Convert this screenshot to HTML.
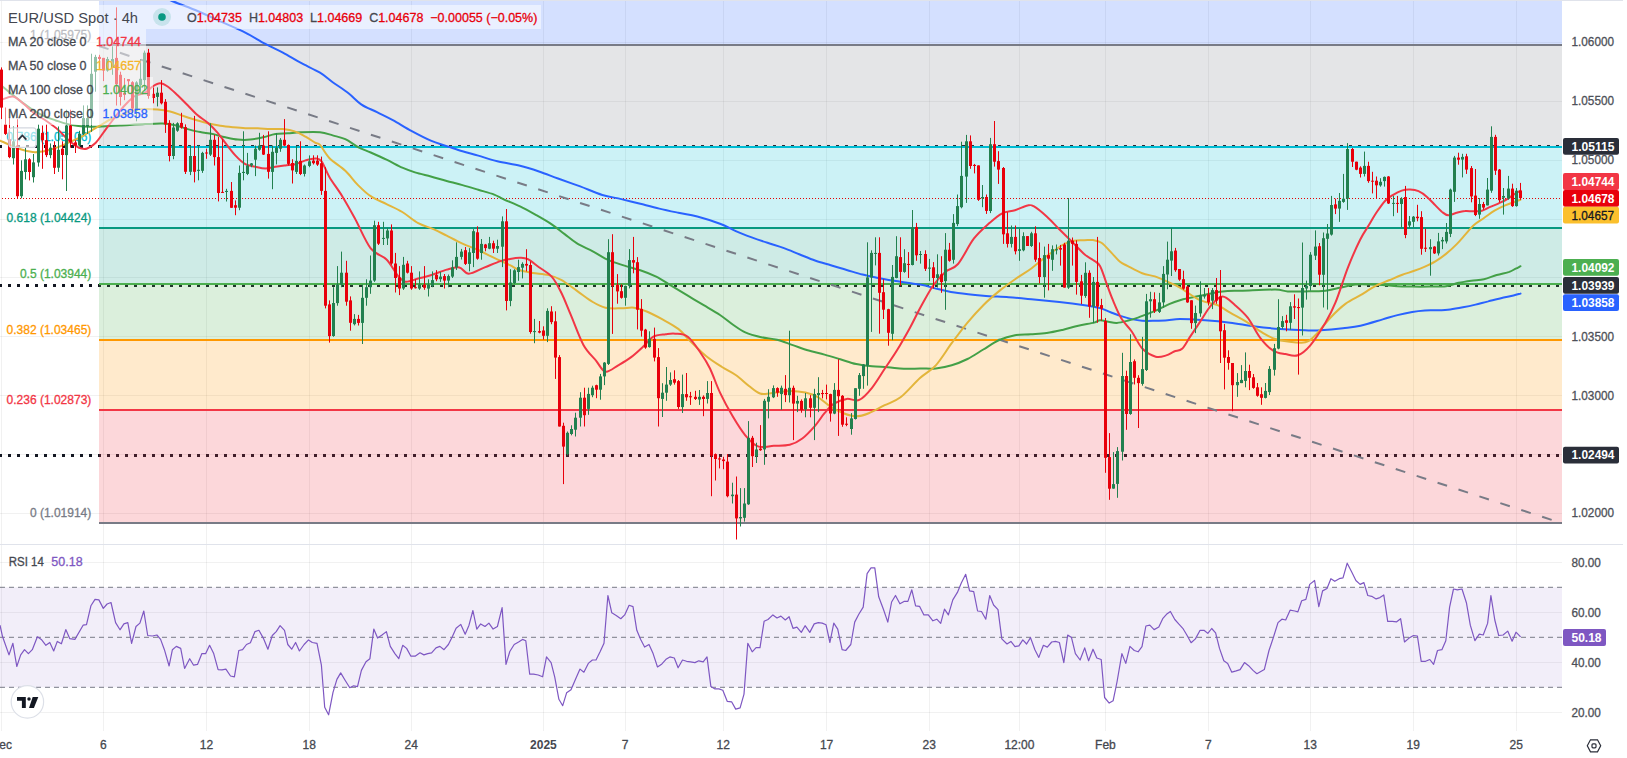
<!DOCTYPE html>
<html><head><meta charset="utf-8"><style>
html,body{margin:0;padding:0;background:#fff;width:1627px;height:758px;overflow:hidden}
svg{display:block;font-family:"Liberation Sans",sans-serif}
</style></head><body>
<svg width="1627" height="758" viewBox="0 0 1627 758">
<rect width="1627" height="758" fill="#fff"/>
<rect x="1" y="1" width="1" height="730" fill="rgba(42,50,48,0.065)"/>
<rect x="103" y="1" width="1" height="730" fill="rgba(42,50,48,0.065)"/>
<rect x="206" y="1" width="1" height="730" fill="rgba(42,50,48,0.065)"/>
<rect x="309" y="1" width="1" height="730" fill="rgba(42,50,48,0.065)"/>
<rect x="411" y="1" width="1" height="730" fill="rgba(42,50,48,0.065)"/>
<rect x="543" y="1" width="1" height="730" fill="rgba(42,50,48,0.065)"/>
<rect x="625" y="1" width="1" height="730" fill="rgba(42,50,48,0.065)"/>
<rect x="723" y="1" width="1" height="730" fill="rgba(42,50,48,0.065)"/>
<rect x="826" y="1" width="1" height="730" fill="rgba(42,50,48,0.065)"/>
<rect x="929" y="1" width="1" height="730" fill="rgba(42,50,48,0.065)"/>
<rect x="1019" y="1" width="1" height="730" fill="rgba(42,50,48,0.065)"/>
<rect x="1105" y="1" width="1" height="730" fill="rgba(42,50,48,0.065)"/>
<rect x="1208" y="1" width="1" height="730" fill="rgba(42,50,48,0.065)"/>
<rect x="1310" y="1" width="1" height="730" fill="rgba(42,50,48,0.065)"/>
<rect x="1413" y="1" width="1" height="730" fill="rgba(42,50,48,0.065)"/>
<rect x="1516" y="1" width="1" height="730" fill="rgba(42,50,48,0.065)"/>
<rect x="0" y="513" width="1562" height="1" fill="rgba(42,50,48,0.065)"/>
<rect x="0" y="454" width="1562" height="1" fill="rgba(42,50,48,0.065)"/>
<rect x="0" y="395" width="1562" height="1" fill="rgba(42,50,48,0.065)"/>
<rect x="0" y="336" width="1562" height="1" fill="rgba(42,50,48,0.065)"/>
<rect x="0" y="277" width="1562" height="1" fill="rgba(42,50,48,0.065)"/>
<rect x="0" y="219" width="1562" height="1" fill="rgba(42,50,48,0.065)"/>
<rect x="0" y="160" width="1562" height="1" fill="rgba(42,50,48,0.065)"/>
<rect x="0" y="101" width="1562" height="1" fill="rgba(42,50,48,0.065)"/>
<rect x="0" y="42" width="1562" height="1" fill="rgba(42,50,48,0.065)"/>
<rect x="0" y="562" width="1562" height="1" fill="rgba(42,50,48,0.065)"/>
<rect x="0" y="612" width="1562" height="1" fill="rgba(42,50,48,0.065)"/>
<rect x="0" y="662" width="1562" height="1" fill="rgba(42,50,48,0.065)"/>
<rect x="0" y="712" width="1562" height="1" fill="rgba(42,50,48,0.065)"/>
<svg x="0" y="0" width="1562" height="543" overflow="hidden">
<path d="M-1,145h3v3h-3z M8,145h3v3h-3z M17,145h3v3h-3z M26,145h3v3h-3z M35,145h3v3h-3z M44,145h3v3h-3z M53,145h3v3h-3z M62,145h3v3h-3z M71,145h3v3h-3z M80,145h3v3h-3z M89,145h3v3h-3z M98,145h3v3h-3z M107,145h3v3h-3z M116,145h3v3h-3z M125,145h3v3h-3z M134,145h3v3h-3z M143,145h3v3h-3z M152,145h3v3h-3z M161,145h3v3h-3z M170,145h3v3h-3z M179,145h3v3h-3z M188,145h3v3h-3z M197,145h3v3h-3z M206,145h3v3h-3z M215,145h3v3h-3z M224,145h3v3h-3z M233,145h3v3h-3z M242,145h3v3h-3z M251,145h3v3h-3z M260,145h3v3h-3z M269,145h3v3h-3z M278,145h3v3h-3z M287,145h3v3h-3z M296,145h3v3h-3z M305,145h3v3h-3z M314,145h3v3h-3z M323,145h3v3h-3z M332,145h3v3h-3z M341,145h3v3h-3z M350,145h3v3h-3z M359,145h3v3h-3z M368,145h3v3h-3z M377,145h3v3h-3z M386,145h3v3h-3z M395,145h3v3h-3z M404,145h3v3h-3z M413,145h3v3h-3z M422,145h3v3h-3z M431,145h3v3h-3z M440,145h3v3h-3z M449,145h3v3h-3z M458,145h3v3h-3z M467,145h3v3h-3z M476,145h3v3h-3z M485,145h3v3h-3z M494,145h3v3h-3z M503,145h3v3h-3z M512,145h3v3h-3z M521,145h3v3h-3z M530,145h3v3h-3z M539,145h3v3h-3z M548,145h3v3h-3z M557,145h3v3h-3z M566,145h3v3h-3z M575,145h3v3h-3z M584,145h3v3h-3z M593,145h3v3h-3z M602,145h3v3h-3z M611,145h3v3h-3z M620,145h3v3h-3z M629,145h3v3h-3z M638,145h3v3h-3z M647,145h3v3h-3z M656,145h3v3h-3z M665,145h3v3h-3z M674,145h3v3h-3z M683,145h3v3h-3z M692,145h3v3h-3z M701,145h3v3h-3z M710,145h3v3h-3z M719,145h3v3h-3z M728,145h3v3h-3z M737,145h3v3h-3z M746,145h3v3h-3z M755,145h3v3h-3z M764,145h3v3h-3z M773,145h3v3h-3z M782,145h3v3h-3z M791,145h3v3h-3z M800,145h3v3h-3z M809,145h3v3h-3z M818,145h3v3h-3z M827,145h3v3h-3z M836,145h3v3h-3z M845,145h3v3h-3z M854,145h3v3h-3z M863,145h3v3h-3z M872,145h3v3h-3z M881,145h3v3h-3z M890,145h3v3h-3z M899,145h3v3h-3z M908,145h3v3h-3z M917,145h3v3h-3z M926,145h3v3h-3z M935,145h3v3h-3z M944,145h3v3h-3z M953,145h3v3h-3z M962,145h3v3h-3z M971,145h3v3h-3z M980,145h3v3h-3z M989,145h3v3h-3z M998,145h3v3h-3z M1007,145h3v3h-3z M1016,145h3v3h-3z M1025,145h3v3h-3z M1034,145h3v3h-3z M1043,145h3v3h-3z M1052,145h3v3h-3z M1061,145h3v3h-3z M1070,145h3v3h-3z M1079,145h3v3h-3z M1088,145h3v3h-3z M1097,145h3v3h-3z M1106,145h3v3h-3z M1115,145h3v3h-3z M1124,145h3v3h-3z M1133,145h3v3h-3z M1142,145h3v3h-3z M1151,145h3v3h-3z M1160,145h3v3h-3z M1169,145h3v3h-3z M1178,145h3v3h-3z M1187,145h3v3h-3z M1196,145h3v3h-3z M1205,145h3v3h-3z M1214,145h3v3h-3z M1223,145h3v3h-3z M1232,145h3v3h-3z M1241,145h3v3h-3z M1250,145h3v3h-3z M1259,145h3v3h-3z M1268,145h3v3h-3z M1277,145h3v3h-3z M1286,145h3v3h-3z M1295,145h3v3h-3z M1304,145h3v3h-3z M1313,145h3v3h-3z M1322,145h3v3h-3z M1331,145h3v3h-3z M1340,145h3v3h-3z M1349,145h3v3h-3z M1358,145h3v3h-3z M1367,145h3v3h-3z M1376,145h3v3h-3z M1385,145h3v3h-3z M1394,145h3v3h-3z M1403,145h3v3h-3z M1412,145h3v3h-3z M1421,145h3v3h-3z M1430,145h3v3h-3z M1439,145h3v3h-3z M1448,145h3v3h-3z M1457,145h3v3h-3z M1466,145h3v3h-3z M1475,145h3v3h-3z M1484,145h3v3h-3z M1493,145h3v3h-3z M1502,145h3v3h-3z M1511,145h3v3h-3z M1520,145h3v3h-3z M1529,145h3v3h-3z M1538,145h3v3h-3z M1547,145h3v3h-3z M1556,145h3v3h-3z" fill="#131722"/>
<path d="M-1,284h3v3h-3z M8,284h3v3h-3z M17,284h3v3h-3z M26,284h3v3h-3z M35,284h3v3h-3z M44,284h3v3h-3z M53,284h3v3h-3z M62,284h3v3h-3z M71,284h3v3h-3z M80,284h3v3h-3z M89,284h3v3h-3z M98,284h3v3h-3z M107,284h3v3h-3z M116,284h3v3h-3z M125,284h3v3h-3z M134,284h3v3h-3z M143,284h3v3h-3z M152,284h3v3h-3z M161,284h3v3h-3z M170,284h3v3h-3z M179,284h3v3h-3z M188,284h3v3h-3z M197,284h3v3h-3z M206,284h3v3h-3z M215,284h3v3h-3z M224,284h3v3h-3z M233,284h3v3h-3z M242,284h3v3h-3z M251,284h3v3h-3z M260,284h3v3h-3z M269,284h3v3h-3z M278,284h3v3h-3z M287,284h3v3h-3z M296,284h3v3h-3z M305,284h3v3h-3z M314,284h3v3h-3z M323,284h3v3h-3z M332,284h3v3h-3z M341,284h3v3h-3z M350,284h3v3h-3z M359,284h3v3h-3z M368,284h3v3h-3z M377,284h3v3h-3z M386,284h3v3h-3z M395,284h3v3h-3z M404,284h3v3h-3z M413,284h3v3h-3z M422,284h3v3h-3z M431,284h3v3h-3z M440,284h3v3h-3z M449,284h3v3h-3z M458,284h3v3h-3z M467,284h3v3h-3z M476,284h3v3h-3z M485,284h3v3h-3z M494,284h3v3h-3z M503,284h3v3h-3z M512,284h3v3h-3z M521,284h3v3h-3z M530,284h3v3h-3z M539,284h3v3h-3z M548,284h3v3h-3z M557,284h3v3h-3z M566,284h3v3h-3z M575,284h3v3h-3z M584,284h3v3h-3z M593,284h3v3h-3z M602,284h3v3h-3z M611,284h3v3h-3z M620,284h3v3h-3z M629,284h3v3h-3z M638,284h3v3h-3z M647,284h3v3h-3z M656,284h3v3h-3z M665,284h3v3h-3z M674,284h3v3h-3z M683,284h3v3h-3z M692,284h3v3h-3z M701,284h3v3h-3z M710,284h3v3h-3z M719,284h3v3h-3z M728,284h3v3h-3z M737,284h3v3h-3z M746,284h3v3h-3z M755,284h3v3h-3z M764,284h3v3h-3z M773,284h3v3h-3z M782,284h3v3h-3z M791,284h3v3h-3z M800,284h3v3h-3z M809,284h3v3h-3z M818,284h3v3h-3z M827,284h3v3h-3z M836,284h3v3h-3z M845,284h3v3h-3z M854,284h3v3h-3z M863,284h3v3h-3z M872,284h3v3h-3z M881,284h3v3h-3z M890,284h3v3h-3z M899,284h3v3h-3z M908,284h3v3h-3z M917,284h3v3h-3z M926,284h3v3h-3z M935,284h3v3h-3z M944,284h3v3h-3z M953,284h3v3h-3z M962,284h3v3h-3z M971,284h3v3h-3z M980,284h3v3h-3z M989,284h3v3h-3z M998,284h3v3h-3z M1007,284h3v3h-3z M1016,284h3v3h-3z M1025,284h3v3h-3z M1034,284h3v3h-3z M1043,284h3v3h-3z M1052,284h3v3h-3z M1061,284h3v3h-3z M1070,284h3v3h-3z M1079,284h3v3h-3z M1088,284h3v3h-3z M1097,284h3v3h-3z M1106,284h3v3h-3z M1115,284h3v3h-3z M1124,284h3v3h-3z M1133,284h3v3h-3z M1142,284h3v3h-3z M1151,284h3v3h-3z M1160,284h3v3h-3z M1169,284h3v3h-3z M1178,284h3v3h-3z M1187,284h3v3h-3z M1196,284h3v3h-3z M1205,284h3v3h-3z M1214,284h3v3h-3z M1223,284h3v3h-3z M1232,284h3v3h-3z M1241,284h3v3h-3z M1250,284h3v3h-3z M1259,284h3v3h-3z M1268,284h3v3h-3z M1277,284h3v3h-3z M1286,284h3v3h-3z M1295,284h3v3h-3z M1304,284h3v3h-3z M1313,284h3v3h-3z M1322,284h3v3h-3z M1331,284h3v3h-3z M1340,284h3v3h-3z M1349,284h3v3h-3z M1358,284h3v3h-3z M1367,284h3v3h-3z M1376,284h3v3h-3z M1385,284h3v3h-3z M1394,284h3v3h-3z M1403,284h3v3h-3z M1412,284h3v3h-3z M1421,284h3v3h-3z M1430,284h3v3h-3z M1439,284h3v3h-3z M1448,284h3v3h-3z M1457,284h3v3h-3z M1466,284h3v3h-3z M1475,284h3v3h-3z M1484,284h3v3h-3z M1493,284h3v3h-3z M1502,284h3v3h-3z M1511,284h3v3h-3z M1520,284h3v3h-3z M1529,284h3v3h-3z M1538,284h3v3h-3z M1547,284h3v3h-3z M1556,284h3v3h-3z" fill="#131722"/>
<path d="M-1,454h3v3h-3z M8,454h3v3h-3z M17,454h3v3h-3z M26,454h3v3h-3z M35,454h3v3h-3z M44,454h3v3h-3z M53,454h3v3h-3z M62,454h3v3h-3z M71,454h3v3h-3z M80,454h3v3h-3z M89,454h3v3h-3z M98,454h3v3h-3z M107,454h3v3h-3z M116,454h3v3h-3z M125,454h3v3h-3z M134,454h3v3h-3z M143,454h3v3h-3z M152,454h3v3h-3z M161,454h3v3h-3z M170,454h3v3h-3z M179,454h3v3h-3z M188,454h3v3h-3z M197,454h3v3h-3z M206,454h3v3h-3z M215,454h3v3h-3z M224,454h3v3h-3z M233,454h3v3h-3z M242,454h3v3h-3z M251,454h3v3h-3z M260,454h3v3h-3z M269,454h3v3h-3z M278,454h3v3h-3z M287,454h3v3h-3z M296,454h3v3h-3z M305,454h3v3h-3z M314,454h3v3h-3z M323,454h3v3h-3z M332,454h3v3h-3z M341,454h3v3h-3z M350,454h3v3h-3z M359,454h3v3h-3z M368,454h3v3h-3z M377,454h3v3h-3z M386,454h3v3h-3z M395,454h3v3h-3z M404,454h3v3h-3z M413,454h3v3h-3z M422,454h3v3h-3z M431,454h3v3h-3z M440,454h3v3h-3z M449,454h3v3h-3z M458,454h3v3h-3z M467,454h3v3h-3z M476,454h3v3h-3z M485,454h3v3h-3z M494,454h3v3h-3z M503,454h3v3h-3z M512,454h3v3h-3z M521,454h3v3h-3z M530,454h3v3h-3z M539,454h3v3h-3z M548,454h3v3h-3z M557,454h3v3h-3z M566,454h3v3h-3z M575,454h3v3h-3z M584,454h3v3h-3z M593,454h3v3h-3z M602,454h3v3h-3z M611,454h3v3h-3z M620,454h3v3h-3z M629,454h3v3h-3z M638,454h3v3h-3z M647,454h3v3h-3z M656,454h3v3h-3z M665,454h3v3h-3z M674,454h3v3h-3z M683,454h3v3h-3z M692,454h3v3h-3z M701,454h3v3h-3z M710,454h3v3h-3z M719,454h3v3h-3z M728,454h3v3h-3z M737,454h3v3h-3z M746,454h3v3h-3z M755,454h3v3h-3z M764,454h3v3h-3z M773,454h3v3h-3z M782,454h3v3h-3z M791,454h3v3h-3z M800,454h3v3h-3z M809,454h3v3h-3z M818,454h3v3h-3z M827,454h3v3h-3z M836,454h3v3h-3z M845,454h3v3h-3z M854,454h3v3h-3z M863,454h3v3h-3z M872,454h3v3h-3z M881,454h3v3h-3z M890,454h3v3h-3z M899,454h3v3h-3z M908,454h3v3h-3z M917,454h3v3h-3z M926,454h3v3h-3z M935,454h3v3h-3z M944,454h3v3h-3z M953,454h3v3h-3z M962,454h3v3h-3z M971,454h3v3h-3z M980,454h3v3h-3z M989,454h3v3h-3z M998,454h3v3h-3z M1007,454h3v3h-3z M1016,454h3v3h-3z M1025,454h3v3h-3z M1034,454h3v3h-3z M1043,454h3v3h-3z M1052,454h3v3h-3z M1061,454h3v3h-3z M1070,454h3v3h-3z M1079,454h3v3h-3z M1088,454h3v3h-3z M1097,454h3v3h-3z M1106,454h3v3h-3z M1115,454h3v3h-3z M1124,454h3v3h-3z M1133,454h3v3h-3z M1142,454h3v3h-3z M1151,454h3v3h-3z M1160,454h3v3h-3z M1169,454h3v3h-3z M1178,454h3v3h-3z M1187,454h3v3h-3z M1196,454h3v3h-3z M1205,454h3v3h-3z M1214,454h3v3h-3z M1223,454h3v3h-3z M1232,454h3v3h-3z M1241,454h3v3h-3z M1250,454h3v3h-3z M1259,454h3v3h-3z M1268,454h3v3h-3z M1277,454h3v3h-3z M1286,454h3v3h-3z M1295,454h3v3h-3z M1304,454h3v3h-3z M1313,454h3v3h-3z M1322,454h3v3h-3z M1331,454h3v3h-3z M1340,454h3v3h-3z M1349,454h3v3h-3z M1358,454h3v3h-3z M1367,454h3v3h-3z M1376,454h3v3h-3z M1385,454h3v3h-3z M1394,454h3v3h-3z M1403,454h3v3h-3z M1412,454h3v3h-3z M1421,454h3v3h-3z M1430,454h3v3h-3z M1439,454h3v3h-3z M1448,454h3v3h-3z M1457,454h3v3h-3z M1466,454h3v3h-3z M1475,454h3v3h-3z M1484,454h3v3h-3z M1493,454h3v3h-3z M1502,454h3v3h-3z M1511,454h3v3h-3z M1520,454h3v3h-3z M1529,454h3v3h-3z M1538,454h3v3h-3z M1547,454h3v3h-3z M1556,454h3v3h-3z" fill="#131722"/>
<rect x="99" y="1" width="1463" height="44" fill="rgba(41,98,255,0.2)"/>
<rect x="99" y="45" width="1463" height="102" fill="rgba(120,123,134,0.2)"/>
<rect x="99" y="147" width="1463" height="81" fill="rgba(0,188,212,0.2)"/>
<rect x="99" y="228" width="1463" height="56" fill="rgba(8,153,129,0.2)"/>
<rect x="99" y="284" width="1463" height="56" fill="rgba(76,175,80,0.2)"/>
<rect x="99" y="340" width="1463" height="70" fill="rgba(255,152,0,0.2)"/>
<rect x="99" y="410" width="1463" height="113" fill="rgba(242,54,69,0.2)"/>
<rect x="99" y="44" width="1463" height="2" fill="#787b86"/>
<rect x="99" y="146" width="1463" height="2" fill="#00bcd4"/>
<rect x="99" y="227" width="1463" height="2" fill="#089981"/>
<rect x="99" y="283" width="1463" height="2" fill="#4caf50"/>
<rect x="99" y="339" width="1463" height="2" fill="#ff9800"/>
<rect x="99" y="409" width="1463" height="2" fill="#f23645"/>
<rect x="99" y="522" width="1463" height="2" fill="#787b86"/>
<text x="91.3" y="39.2" fill="#787b86" font-size="12" text-anchor="end" stroke="#787b86" stroke-width="0.3">1 (1.05975)</text>
<text x="91.3" y="141.2" fill="#00bcd4" font-size="12" text-anchor="end" stroke="#00bcd4" stroke-width="0.3">0.786 (1.05106)</text>
<text x="91.3" y="222.2" fill="#089981" font-size="12" text-anchor="end" stroke="#089981" stroke-width="0.3">0.618 (1.04424)</text>
<text x="91.3" y="278.2" fill="#4caf50" font-size="12" text-anchor="end" stroke="#4caf50" stroke-width="0.3">0.5 (1.03944)</text>
<text x="91.3" y="334.2" fill="#ff9800" font-size="12" text-anchor="end" stroke="#ff9800" stroke-width="0.3">0.382 (1.03465)</text>
<text x="91.3" y="404.2" fill="#f23645" font-size="12" text-anchor="end" stroke="#f23645" stroke-width="0.3">0.236 (1.02873)</text>
<text x="91.3" y="517.2" fill="#787b86" font-size="12" text-anchor="end" stroke="#787b86" stroke-width="0.3">0 (1.01914)</text>
<path d="M2,198h1v1h-1z M5,198h1v1h-1z M8,198h1v1h-1z M11,198h1v1h-1z M14,198h1v1h-1z M17,198h1v1h-1z M20,198h1v1h-1z M23,198h1v1h-1z M26,198h1v1h-1z M29,198h1v1h-1z M32,198h1v1h-1z M35,198h1v1h-1z M38,198h1v1h-1z M41,198h1v1h-1z M44,198h1v1h-1z M47,198h1v1h-1z M50,198h1v1h-1z M53,198h1v1h-1z M56,198h1v1h-1z M59,198h1v1h-1z M62,198h1v1h-1z M65,198h1v1h-1z M68,198h1v1h-1z M71,198h1v1h-1z M74,198h1v1h-1z M77,198h1v1h-1z M80,198h1v1h-1z M83,198h1v1h-1z M86,198h1v1h-1z M89,198h1v1h-1z M92,198h1v1h-1z M95,198h1v1h-1z M98,198h1v1h-1z M101,198h1v1h-1z M104,198h1v1h-1z M107,198h1v1h-1z M110,198h1v1h-1z M113,198h1v1h-1z M116,198h1v1h-1z M119,198h1v1h-1z M122,198h1v1h-1z M125,198h1v1h-1z M128,198h1v1h-1z M131,198h1v1h-1z M134,198h1v1h-1z M137,198h1v1h-1z M140,198h1v1h-1z M143,198h1v1h-1z M146,198h1v1h-1z M149,198h1v1h-1z M152,198h1v1h-1z M155,198h1v1h-1z M158,198h1v1h-1z M161,198h1v1h-1z M164,198h1v1h-1z M167,198h1v1h-1z M170,198h1v1h-1z M173,198h1v1h-1z M176,198h1v1h-1z M179,198h1v1h-1z M182,198h1v1h-1z M185,198h1v1h-1z M188,198h1v1h-1z M191,198h1v1h-1z M194,198h1v1h-1z M197,198h1v1h-1z M200,198h1v1h-1z M203,198h1v1h-1z M206,198h1v1h-1z M209,198h1v1h-1z M212,198h1v1h-1z M215,198h1v1h-1z M218,198h1v1h-1z M221,198h1v1h-1z M224,198h1v1h-1z M227,198h1v1h-1z M230,198h1v1h-1z M233,198h1v1h-1z M236,198h1v1h-1z M239,198h1v1h-1z M242,198h1v1h-1z M245,198h1v1h-1z M248,198h1v1h-1z M251,198h1v1h-1z M254,198h1v1h-1z M257,198h1v1h-1z M260,198h1v1h-1z M263,198h1v1h-1z M266,198h1v1h-1z M269,198h1v1h-1z M272,198h1v1h-1z M275,198h1v1h-1z M278,198h1v1h-1z M281,198h1v1h-1z M284,198h1v1h-1z M287,198h1v1h-1z M290,198h1v1h-1z M293,198h1v1h-1z M296,198h1v1h-1z M299,198h1v1h-1z M302,198h1v1h-1z M305,198h1v1h-1z M308,198h1v1h-1z M311,198h1v1h-1z M314,198h1v1h-1z M317,198h1v1h-1z M320,198h1v1h-1z M323,198h1v1h-1z M326,198h1v1h-1z M329,198h1v1h-1z M332,198h1v1h-1z M335,198h1v1h-1z M338,198h1v1h-1z M341,198h1v1h-1z M344,198h1v1h-1z M347,198h1v1h-1z M350,198h1v1h-1z M353,198h1v1h-1z M356,198h1v1h-1z M359,198h1v1h-1z M362,198h1v1h-1z M365,198h1v1h-1z M368,198h1v1h-1z M371,198h1v1h-1z M374,198h1v1h-1z M377,198h1v1h-1z M380,198h1v1h-1z M383,198h1v1h-1z M386,198h1v1h-1z M389,198h1v1h-1z M392,198h1v1h-1z M395,198h1v1h-1z M398,198h1v1h-1z M401,198h1v1h-1z M404,198h1v1h-1z M407,198h1v1h-1z M410,198h1v1h-1z M413,198h1v1h-1z M416,198h1v1h-1z M419,198h1v1h-1z M422,198h1v1h-1z M425,198h1v1h-1z M428,198h1v1h-1z M431,198h1v1h-1z M434,198h1v1h-1z M437,198h1v1h-1z M440,198h1v1h-1z M443,198h1v1h-1z M446,198h1v1h-1z M449,198h1v1h-1z M452,198h1v1h-1z M455,198h1v1h-1z M458,198h1v1h-1z M461,198h1v1h-1z M464,198h1v1h-1z M467,198h1v1h-1z M470,198h1v1h-1z M473,198h1v1h-1z M476,198h1v1h-1z M479,198h1v1h-1z M482,198h1v1h-1z M485,198h1v1h-1z M488,198h1v1h-1z M491,198h1v1h-1z M494,198h1v1h-1z M497,198h1v1h-1z M500,198h1v1h-1z M503,198h1v1h-1z M506,198h1v1h-1z M509,198h1v1h-1z M512,198h1v1h-1z M515,198h1v1h-1z M518,198h1v1h-1z M521,198h1v1h-1z M524,198h1v1h-1z M527,198h1v1h-1z M530,198h1v1h-1z M533,198h1v1h-1z M536,198h1v1h-1z M539,198h1v1h-1z M542,198h1v1h-1z M545,198h1v1h-1z M548,198h1v1h-1z M551,198h1v1h-1z M554,198h1v1h-1z M557,198h1v1h-1z M560,198h1v1h-1z M563,198h1v1h-1z M566,198h1v1h-1z M569,198h1v1h-1z M572,198h1v1h-1z M575,198h1v1h-1z M578,198h1v1h-1z M581,198h1v1h-1z M584,198h1v1h-1z M587,198h1v1h-1z M590,198h1v1h-1z M593,198h1v1h-1z M596,198h1v1h-1z M599,198h1v1h-1z M602,198h1v1h-1z M605,198h1v1h-1z M608,198h1v1h-1z M611,198h1v1h-1z M614,198h1v1h-1z M617,198h1v1h-1z M620,198h1v1h-1z M623,198h1v1h-1z M626,198h1v1h-1z M629,198h1v1h-1z M632,198h1v1h-1z M635,198h1v1h-1z M638,198h1v1h-1z M641,198h1v1h-1z M644,198h1v1h-1z M647,198h1v1h-1z M650,198h1v1h-1z M653,198h1v1h-1z M656,198h1v1h-1z M659,198h1v1h-1z M662,198h1v1h-1z M665,198h1v1h-1z M668,198h1v1h-1z M671,198h1v1h-1z M674,198h1v1h-1z M677,198h1v1h-1z M680,198h1v1h-1z M683,198h1v1h-1z M686,198h1v1h-1z M689,198h1v1h-1z M692,198h1v1h-1z M695,198h1v1h-1z M698,198h1v1h-1z M701,198h1v1h-1z M704,198h1v1h-1z M707,198h1v1h-1z M710,198h1v1h-1z M713,198h1v1h-1z M716,198h1v1h-1z M719,198h1v1h-1z M722,198h1v1h-1z M725,198h1v1h-1z M728,198h1v1h-1z M731,198h1v1h-1z M734,198h1v1h-1z M737,198h1v1h-1z M740,198h1v1h-1z M743,198h1v1h-1z M746,198h1v1h-1z M749,198h1v1h-1z M752,198h1v1h-1z M755,198h1v1h-1z M758,198h1v1h-1z M761,198h1v1h-1z M764,198h1v1h-1z M767,198h1v1h-1z M770,198h1v1h-1z M773,198h1v1h-1z M776,198h1v1h-1z M779,198h1v1h-1z M782,198h1v1h-1z M785,198h1v1h-1z M788,198h1v1h-1z M791,198h1v1h-1z M794,198h1v1h-1z M797,198h1v1h-1z M800,198h1v1h-1z M803,198h1v1h-1z M806,198h1v1h-1z M809,198h1v1h-1z M812,198h1v1h-1z M815,198h1v1h-1z M818,198h1v1h-1z M821,198h1v1h-1z M824,198h1v1h-1z M827,198h1v1h-1z M830,198h1v1h-1z M833,198h1v1h-1z M836,198h1v1h-1z M839,198h1v1h-1z M842,198h1v1h-1z M845,198h1v1h-1z M848,198h1v1h-1z M851,198h1v1h-1z M854,198h1v1h-1z M857,198h1v1h-1z M860,198h1v1h-1z M863,198h1v1h-1z M866,198h1v1h-1z M869,198h1v1h-1z M872,198h1v1h-1z M875,198h1v1h-1z M878,198h1v1h-1z M881,198h1v1h-1z M884,198h1v1h-1z M887,198h1v1h-1z M890,198h1v1h-1z M893,198h1v1h-1z M896,198h1v1h-1z M899,198h1v1h-1z M902,198h1v1h-1z M905,198h1v1h-1z M908,198h1v1h-1z M911,198h1v1h-1z M914,198h1v1h-1z M917,198h1v1h-1z M920,198h1v1h-1z M923,198h1v1h-1z M926,198h1v1h-1z M929,198h1v1h-1z M932,198h1v1h-1z M935,198h1v1h-1z M938,198h1v1h-1z M941,198h1v1h-1z M944,198h1v1h-1z M947,198h1v1h-1z M950,198h1v1h-1z M953,198h1v1h-1z M956,198h1v1h-1z M959,198h1v1h-1z M962,198h1v1h-1z M965,198h1v1h-1z M968,198h1v1h-1z M971,198h1v1h-1z M974,198h1v1h-1z M977,198h1v1h-1z M980,198h1v1h-1z M983,198h1v1h-1z M986,198h1v1h-1z M989,198h1v1h-1z M992,198h1v1h-1z M995,198h1v1h-1z M998,198h1v1h-1z M1001,198h1v1h-1z M1004,198h1v1h-1z M1007,198h1v1h-1z M1010,198h1v1h-1z M1013,198h1v1h-1z M1016,198h1v1h-1z M1019,198h1v1h-1z M1022,198h1v1h-1z M1025,198h1v1h-1z M1028,198h1v1h-1z M1031,198h1v1h-1z M1034,198h1v1h-1z M1037,198h1v1h-1z M1040,198h1v1h-1z M1043,198h1v1h-1z M1046,198h1v1h-1z M1049,198h1v1h-1z M1052,198h1v1h-1z M1055,198h1v1h-1z M1058,198h1v1h-1z M1061,198h1v1h-1z M1064,198h1v1h-1z M1067,198h1v1h-1z M1070,198h1v1h-1z M1073,198h1v1h-1z M1076,198h1v1h-1z M1079,198h1v1h-1z M1082,198h1v1h-1z M1085,198h1v1h-1z M1088,198h1v1h-1z M1091,198h1v1h-1z M1094,198h1v1h-1z M1097,198h1v1h-1z M1100,198h1v1h-1z M1103,198h1v1h-1z M1106,198h1v1h-1z M1109,198h1v1h-1z M1112,198h1v1h-1z M1115,198h1v1h-1z M1118,198h1v1h-1z M1121,198h1v1h-1z M1124,198h1v1h-1z M1127,198h1v1h-1z M1130,198h1v1h-1z M1133,198h1v1h-1z M1136,198h1v1h-1z M1139,198h1v1h-1z M1142,198h1v1h-1z M1145,198h1v1h-1z M1148,198h1v1h-1z M1151,198h1v1h-1z M1154,198h1v1h-1z M1157,198h1v1h-1z M1160,198h1v1h-1z M1163,198h1v1h-1z M1166,198h1v1h-1z M1169,198h1v1h-1z M1172,198h1v1h-1z M1175,198h1v1h-1z M1178,198h1v1h-1z M1181,198h1v1h-1z M1184,198h1v1h-1z M1187,198h1v1h-1z M1190,198h1v1h-1z M1193,198h1v1h-1z M1196,198h1v1h-1z M1199,198h1v1h-1z M1202,198h1v1h-1z M1205,198h1v1h-1z M1208,198h1v1h-1z M1211,198h1v1h-1z M1214,198h1v1h-1z M1217,198h1v1h-1z M1220,198h1v1h-1z M1223,198h1v1h-1z M1226,198h1v1h-1z M1229,198h1v1h-1z M1232,198h1v1h-1z M1235,198h1v1h-1z M1238,198h1v1h-1z M1241,198h1v1h-1z M1244,198h1v1h-1z M1247,198h1v1h-1z M1250,198h1v1h-1z M1253,198h1v1h-1z M1256,198h1v1h-1z M1259,198h1v1h-1z M1262,198h1v1h-1z M1265,198h1v1h-1z M1268,198h1v1h-1z M1271,198h1v1h-1z M1274,198h1v1h-1z M1277,198h1v1h-1z M1280,198h1v1h-1z M1283,198h1v1h-1z M1286,198h1v1h-1z M1289,198h1v1h-1z M1292,198h1v1h-1z M1295,198h1v1h-1z M1298,198h1v1h-1z M1301,198h1v1h-1z M1304,198h1v1h-1z M1307,198h1v1h-1z M1310,198h1v1h-1z M1313,198h1v1h-1z M1316,198h1v1h-1z M1319,198h1v1h-1z M1322,198h1v1h-1z M1325,198h1v1h-1z M1328,198h1v1h-1z M1331,198h1v1h-1z M1334,198h1v1h-1z M1337,198h1v1h-1z M1340,198h1v1h-1z M1343,198h1v1h-1z M1346,198h1v1h-1z M1349,198h1v1h-1z M1352,198h1v1h-1z M1355,198h1v1h-1z M1358,198h1v1h-1z M1361,198h1v1h-1z M1364,198h1v1h-1z M1367,198h1v1h-1z M1370,198h1v1h-1z M1373,198h1v1h-1z M1376,198h1v1h-1z M1379,198h1v1h-1z M1382,198h1v1h-1z M1385,198h1v1h-1z M1388,198h1v1h-1z M1391,198h1v1h-1z M1394,198h1v1h-1z M1397,198h1v1h-1z M1400,198h1v1h-1z M1403,198h1v1h-1z M1406,198h1v1h-1z M1409,198h1v1h-1z M1412,198h1v1h-1z M1415,198h1v1h-1z M1418,198h1v1h-1z M1421,198h1v1h-1z M1424,198h1v1h-1z M1427,198h1v1h-1z M1430,198h1v1h-1z M1433,198h1v1h-1z M1436,198h1v1h-1z M1439,198h1v1h-1z M1442,198h1v1h-1z M1445,198h1v1h-1z M1448,198h1v1h-1z M1451,198h1v1h-1z M1454,198h1v1h-1z M1457,198h1v1h-1z M1460,198h1v1h-1z M1463,198h1v1h-1z M1466,198h1v1h-1z M1469,198h1v1h-1z M1472,198h1v1h-1z M1475,198h1v1h-1z M1478,198h1v1h-1z M1481,198h1v1h-1z M1484,198h1v1h-1z M1487,198h1v1h-1z M1490,198h1v1h-1z M1493,198h1v1h-1z M1496,198h1v1h-1z M1499,198h1v1h-1z M1502,198h1v1h-1z M1505,198h1v1h-1z M1508,198h1v1h-1z M1511,198h1v1h-1z M1514,198h1v1h-1z M1517,198h1v1h-1z M1520,198h1v1h-1z M1523,198h1v1h-1z M1526,198h1v1h-1z M1529,198h1v1h-1z M1532,198h1v1h-1z M1535,198h1v1h-1z M1538,198h1v1h-1z M1541,198h1v1h-1z M1544,198h1v1h-1z M1547,198h1v1h-1z M1550,198h1v1h-1z M1553,198h1v1h-1z M1556,198h1v1h-1z M1559,198h1v1h-1z" fill="#e60000"/>
<line x1="99" y1="46" x2="1555" y2="521" stroke="#787b86" stroke-width="2" stroke-dasharray="10 12"/>
<path d="M165,-2 C166.3,-1.5 167.6,-0.7 172.6,1.3 C177.6,3.3 187.2,6.7 195.2,10 C203.1,13.3 212,17.5 220.3,21.3 C228.7,25.1 237.8,28.8 245.3,32.6 C252.8,36.4 259.1,40.6 265.4,43.9 C271.7,47.2 277,49.5 282.9,52.6 C288.8,55.7 294.3,59.4 300.5,62.7 C306.7,66 314.6,69.5 320,72.7 C325.4,76 327.9,78.8 332.7,82.2 C337.4,85.6 343.8,89.5 348.5,93.2 C353.2,96.9 356.4,101.1 361.2,104.3 C365.9,107.5 371.7,109.5 377,112.2 C382.3,114.9 387,117 392.8,120.2 C398.6,123.4 405.5,127.8 411.8,131.2 C418.1,134.6 425,138.2 430.8,140.7 C436.6,143.2 441.4,144.3 446.7,146.1 C452,147.8 457.2,149.6 462.5,151.2 C467.8,152.8 472.5,153.9 478.3,155.6 C484.1,157.3 490.4,159.6 497.3,161.3 C504.2,163 513,164.1 520,165.8 C527,167.5 532.7,169.4 539,171.5 C545.3,173.6 551.1,176 558,178.5 C564.9,181 572.8,183.7 580.2,186.4 C587.6,189.2 595.4,192.9 602.3,195 C609.1,197.1 615,197.6 621.3,199.1 C627.6,200.6 634,202.2 640.3,203.8 C646.6,205.4 653,207.1 659.3,208.6 C665.6,210.1 672,211.4 678.3,212.7 C684.6,214 690.3,214.7 697.3,216.5 C704.2,218.3 713.6,221.4 720,223.8 C726.4,226.2 730.5,228.8 735.8,231.1 C741.1,233.4 746.4,235.4 751.7,237.4 C757,239.4 762.2,241.1 767.5,242.8 C772.8,244.6 778,246 783.3,247.9 C788.6,249.8 793.9,252.1 799.2,254.2 C804.5,256.3 809.7,258.6 815,260.5 C820.3,262.4 825.5,263.7 830.8,265.3 C836.1,266.9 841.4,268.5 846.7,270 C852,271.5 857.2,273.2 862.5,274.5 C867.8,275.8 873,276.8 878.3,277.9 C883.6,278.9 887.2,279.7 894.2,280.8 C901.2,281.9 912.5,283.2 920,284.6 C927.5,286 932.7,287.9 939,289.3 C945.3,290.7 950.6,292 958,293.1 C965.4,294.2 974.8,295 983.3,295.7 C991.8,296.4 1000.2,296.6 1008.7,297.2 C1017.2,297.8 1025.6,298.7 1034,299.5 C1042.4,300.3 1050.8,301.1 1059.3,302 C1067.8,302.9 1077.9,304.2 1084.7,305.2 C1091.5,306.2 1095.7,306.9 1100,308.1 C1104.3,309.3 1107.1,311 1110.6,312.3 C1114.1,313.6 1117.6,315 1121.1,316.1 C1124.6,317.2 1128.2,318.3 1131.7,319.1 C1135.2,319.9 1138.3,320.5 1142.2,320.8 C1146.1,321.1 1150.7,320.9 1154.9,320.8 C1159.1,320.7 1163.3,320.6 1167.5,320.3 C1171.7,320 1173.7,319 1180,319 C1186.3,319 1196.8,319.6 1205.1,320.2 C1213.4,320.8 1221.8,321.6 1230.1,322.7 C1238.4,323.8 1246.8,325.4 1255.2,326.5 C1263.6,327.6 1272,328.4 1280.3,329 C1288.6,329.6 1298.6,330.1 1305.3,330.3 C1312,330.5 1314.1,330.7 1320.4,330.3 C1326.7,329.9 1336.2,329 1342.9,328.2 C1349.6,327.4 1353.9,327.2 1360.5,325.7 C1367.1,324.2 1376.5,321.2 1382.7,319.4 C1388.9,317.6 1392.5,316.3 1397.4,315.1 C1402.3,313.9 1407.6,312.8 1412.2,312 C1416.8,311.2 1420.7,310.8 1424.9,310.5 C1429.1,310.2 1433.3,310.5 1437.5,310.3 C1441.7,310.1 1446,309.9 1450.2,309.4 C1454.4,308.9 1458.7,308.1 1462.9,307.3 C1467.1,306.5 1471.3,305.6 1475.5,304.6 C1479.7,303.6 1484,302.4 1488.2,301.4 C1492.4,300.3 1496.7,299.3 1500.9,298.3 C1505.1,297.3 1510.2,296.3 1513.5,295.5 C1516.8,294.7 1519.3,293.9 1520.5,293.6" fill="none" stroke="#2962ff" stroke-width="2" stroke-linejoin="round" stroke-linecap="round"/>
<path d="M0,85.5 C0.5,85.7 1,85.5 2.9,86.9 C4.8,88.3 8.4,91.6 11.6,94.1 C14.8,96.6 18.4,99.6 21.8,102.1 C25.2,104.6 28.3,107 31.9,109.3 C35.5,111.6 39.6,114.1 43.5,115.9 C47.4,117.7 51.3,118.9 55.2,120.2 C59.1,121.5 62.9,122.9 66.8,123.9 C70.7,124.9 74.5,125.5 78.4,126 C82.3,126.5 86.1,126.7 90,126.8 C93.9,126.9 96.6,126.7 101.6,126.5 C106.6,126.3 112.8,126 120,125.6 C127.2,125.2 138,124.4 145.1,124.1 C152.2,123.8 157.6,123.4 162.6,123.6 C167.6,123.8 170.9,124.4 175.1,125.3 C179.3,126.2 183.5,128 187.7,129.1 C191.9,130.2 196,131.3 200.2,132.1 C204.4,132.9 208.5,133.2 212.7,134.1 C216.9,135 221.1,136.4 225.3,137.3 C229.5,138.2 233.6,139.2 237.8,139.6 C242,140 246.1,140 250.3,139.6 C254.5,139.2 258.7,138.2 262.9,137.3 C267.1,136.4 271.2,134.8 275.4,134.1 C279.6,133.4 283.7,133.6 287.9,133.3 C292.1,133 295.1,132.5 300.5,132.3 C305.9,132.1 314.6,131.7 320,132.2 C325.4,132.7 328.5,134.2 332.7,135.4 C336.9,136.6 341.1,137.2 345.3,139.2 C349.5,141.1 353.8,144.9 358,147.1 C362.2,149.3 365.9,150.4 370.7,152.5 C375.4,154.6 381.2,157.2 386.5,159.7 C391.8,162.2 397.6,165.6 402.3,167.7 C407.1,169.8 410.2,170.9 415,172.4 C419.8,173.9 425.5,175.1 430.8,176.5 C436.1,177.9 441.4,179.6 446.7,181 C452,182.4 457.2,183.6 462.5,185.1 C467.8,186.6 473,188.2 478.3,189.8 C483.6,191.4 490,193 494.2,194.6 C498.4,196.2 499.4,197.3 503.7,199.3 C508,201.3 514.6,203.8 520,206.4 C525.4,209 530.5,211.9 535.8,214.9 C541.1,217.9 547,221.2 551.7,224.4 C556.5,227.6 560.1,230.7 564.3,233.9 C568.5,237.1 572.2,240.5 577,243.4 C581.8,246.3 587.5,248.5 592.8,251.3 C598.1,254.1 603.4,257.8 608.7,260.2 C614,262.6 619.2,263.9 624.5,265.6 C629.8,267.3 635,268.5 640.3,270.3 C645.6,272.1 650.9,274.1 656.2,276.7 C661.5,279.3 666.7,283 672,286.2 C677.3,289.4 682.5,292.5 687.8,295.7 C693.1,298.9 698.3,302 703.7,305.2 C709.1,308.4 715.2,311.8 720,315 C724.8,318.2 728.5,321.6 732.7,324.5 C736.9,327.4 740.5,330.3 745.3,332.4 C750,334.5 755.9,336 761.2,337.2 C766.5,338.4 771.7,338.4 777,339.7 C782.3,341 787.5,343.3 792.8,345.1 C798.1,346.9 803.4,348.9 808.7,350.5 C814,352.1 819.2,353.1 824.5,354.6 C829.8,356.1 835,357.7 840.3,359.3 C845.6,360.9 850.9,362.9 856.2,364.1 C861.5,365.3 866.7,365.8 872,366.3 C877.3,366.8 882.5,366.8 887.8,367.2 C893.1,367.6 898.3,368.6 903.7,368.8 C909.1,369 914.6,368.6 920,368.5 C925.4,368.4 930.5,369 935.8,368.5 C941.1,368 946.4,366.9 951.7,365.3 C957,363.7 962.2,361.6 967.5,359 C972.8,356.4 978,352.7 983.3,349.5 C988.6,346.3 993.9,342.4 999.2,340 C1004.5,337.6 1009.7,336.1 1015,335.2 C1020.3,334.2 1025.5,334.7 1030.8,334.3 C1036.1,333.9 1041.4,333.7 1046.7,333 C1052,332.3 1057.2,331.1 1062.5,329.9 C1067.8,328.7 1073,326.9 1078.3,325.7 C1083.6,324.5 1090.6,323.5 1094.2,322.6 C1097.8,321.7 1097.6,320.4 1100,320.3 C1102.4,320.2 1105.6,321.4 1108.4,321.8 C1111.2,322.2 1113.7,323.1 1116.9,322.9 C1120.1,322.7 1123.9,321.7 1127.4,320.8 C1130.9,319.9 1134.8,318.7 1138,317.6 C1141.2,316.5 1143.2,315.6 1146.4,314.4 C1149.6,313.2 1153.5,311.8 1157,310.2 C1160.5,308.6 1163.7,306.6 1167.5,304.9 C1171.3,303.2 1173.7,301.9 1180,300.2 C1186.3,298.5 1198,296.2 1205.1,294.7 C1212.2,293.2 1216.3,292.1 1222.6,291.4 C1228.9,290.7 1233.9,291 1242.7,290.7 C1251.5,290.4 1267.7,289.5 1275.2,289.6 C1282.7,289.7 1282.8,291.1 1287.8,291.4 C1292.8,291.7 1299,291.5 1305.3,291.4 C1311.6,291.3 1319.6,291.3 1325.4,290.7 C1331.2,290.1 1335.4,288.6 1340.4,287.6 C1345.4,286.6 1350.5,285.1 1355.4,284.6 C1360.3,284.1 1365.5,284.4 1370,284.5 C1374.5,284.6 1378.1,284.7 1382.7,285 C1387.3,285.3 1392.5,285.9 1397.4,286.2 C1402.3,286.5 1406.9,286.5 1412.2,286.6 C1417.5,286.7 1423.5,286.7 1429.1,286.6 C1434.7,286.5 1441.1,286.8 1446,286.2 C1450.9,285.6 1454.5,283.7 1458.7,282.8 C1462.9,281.9 1467.1,281.3 1471.3,280.7 C1475.5,280.1 1479.8,280.2 1484,279.3 C1488.2,278.4 1492.5,276.2 1496.7,275 C1500.9,273.8 1506.2,272.9 1509.3,271.9 C1512.4,270.8 1513.7,269.6 1515.6,268.7 C1517.5,267.8 1519.7,266.6 1520.5,266.2" fill="none" stroke="#43a047" stroke-width="2" stroke-linejoin="round" stroke-linecap="round"/>
<path d="M0,140.6 C1.9,141.4 7.7,144 11.6,145.6 C15.5,147.2 19.3,148.9 23.2,150 C27.1,151.1 30.9,152.1 34.8,152.2 C38.7,152.3 42.5,151.5 46.4,150.7 C50.3,149.8 54.2,148.5 58.1,147.1 C62,145.7 65.8,143.7 69.7,142 C73.6,140.3 77.4,139 81.3,136.9 C85.2,134.8 89.5,131.8 92.9,129.7 C96.3,127.6 98.7,126.3 101.6,124.6 C104.5,122.9 107.2,121 110.3,119.5 C113.4,118 116.4,117.4 120,115.9 C123.6,114.4 127.8,111.7 132,110.5 C136.2,109.3 140.8,109.2 145.1,109 C149.4,108.8 153.4,109.1 157.6,109.5 C161.8,109.9 165.9,110.5 170.1,111.5 C174.3,112.5 178.5,114.4 182.7,115.8 C186.9,117.2 191,118.5 195.2,119.8 C199.4,121 203.5,122.3 207.7,123.3 C211.9,124.3 216.1,125.1 220.3,125.8 C224.5,126.5 228.6,126.9 232.8,127.3 C237,127.7 241.1,128.1 245.3,128.3 C249.5,128.5 253.6,128.2 257.8,128.3 C262,128.4 266.2,129 270.4,129.1 C274.6,129.2 278.7,128.7 282.9,129.1 C287.1,129.5 291.6,130.3 295.4,131.6 C299.2,132.8 302.1,134.7 305.5,136.6 C308.9,138.5 313.1,141.5 315.5,142.9 C317.9,144.3 317.7,142.4 320,144.9 C322.3,147.4 325.3,153.9 329.5,158.2 C333.7,162.5 340.6,166.3 345.3,170.8 C350.1,175.3 353.8,180.9 358,185.1 C362.2,189.3 365.9,193 370.7,196.2 C375.4,199.4 381.2,201.5 386.5,204.1 C391.8,206.7 397,208.8 402.3,212 C407.6,215.2 412.9,220.2 418.2,223.1 C423.5,226 429.2,227.3 434,229.4 C438.8,231.5 441.9,233.3 446.7,235.7 C451.4,238.1 457.2,241.3 462.5,243.7 C467.8,246.1 473,247.6 478.3,250 C483.6,252.4 488.9,255.4 494.2,257.9 C499.5,260.4 505.7,263.1 510,265.2 C514.3,267.3 516.2,269 520,270.3 C523.8,271.6 528,272.1 532.7,272.9 C537.5,273.7 543.8,274 548.5,275.1 C553.2,276.2 556.5,277.2 561.2,279.8 C566,282.4 571.7,287.2 577,290.9 C582.3,294.6 588,299.2 592.8,302 C597.5,304.8 600.8,306.6 605.5,307.7 C610.2,308.8 616.5,308.3 621.3,308.3 C626,308.3 629.8,307.2 634,307.7 C638.2,308.2 642,309.6 646.7,311.5 C651.5,313.4 657.2,316.5 662.5,319.4 C667.8,322.3 673.8,325.4 678.3,328.9 C682.8,332.4 685.1,336 689.7,340.5 C694.3,345 700.6,351.6 706,356 C711.4,360.4 717,363.8 722,367 C727,370.2 731.2,371.8 735.7,375 C740.2,378.2 745,382.9 749,386 C753,389.1 756.3,392.3 760,393.5 C763.7,394.7 766,393.6 771,393.2 C776,392.8 784,391.1 789.7,391 C795.5,390.9 800.8,391.6 805.5,392.6 C810.2,393.7 814,394.9 818.2,397.3 C822.4,399.7 826.6,404.2 830.8,406.8 C835,409.4 839.3,411.6 843.5,413.2 C847.7,414.8 852,416.3 856.2,416.3 C860.4,416.3 864,415.1 868.8,413.2 C873.5,411.3 879.4,407.8 884.7,405.2 C890,402.6 894.6,401.8 900.5,397.3 C906.4,392.8 914.1,383.3 920,378 C925.9,372.7 930.5,371.1 935.8,365.3 C941.1,359.5 946.4,350.3 951.7,343.2 C957,336.1 962.2,328.9 967.5,322.6 C972.8,316.3 977.9,310.6 983.3,305.2 C988.7,299.8 994.6,294.8 1000,290.4 C1005.4,286 1010.5,282.4 1015.8,278.7 C1021.1,275 1026.4,272.1 1031.7,268.2 C1037,264.3 1042.2,259.4 1047.5,255.5 C1052.8,251.6 1059,247 1063.4,244.5 C1067.8,242 1070.4,241.4 1073.9,240.7 C1077.4,240 1081.3,240.4 1084.5,240.3 C1087.7,240.2 1090.2,239.7 1093,240.1 C1095.8,240.5 1098.2,240.6 1101.4,242.8 C1104.6,245 1108.9,250.2 1112,253.4 C1115.1,256.6 1117.4,259.7 1120,261.8 C1122.6,263.9 1123.7,264 1127.4,265.9 C1131.1,267.8 1137.6,271.6 1142.2,273.3 C1146.8,275.1 1150.7,275 1154.9,276.4 C1159.1,277.8 1163.3,279.8 1167.5,281.7 C1171.7,283.6 1174.6,284.5 1180,287.6 C1185.4,290.7 1193.7,297.3 1200,300.2 C1206.3,303.1 1212.6,303.1 1217.6,305.2 C1222.6,307.3 1225.1,309.8 1230.1,312.7 C1235.1,315.6 1242.3,319.3 1247.7,322.7 C1253.1,326.1 1258.1,330.1 1262.7,332.8 C1267.3,335.5 1271,337.6 1275.2,339 C1279.4,340.4 1282.8,340.9 1287.8,341.5 C1292.8,342.1 1300.7,343.3 1305.3,342.3 C1309.9,341.3 1311.1,339.4 1315.3,335.3 C1319.5,331.2 1325.4,322.9 1330.4,317.7 C1335.4,312.5 1340.4,307.6 1345.4,303.9 C1350.4,300.1 1356.4,297.6 1360.5,295.2 C1364.6,292.8 1367,291 1370,289.2 C1373,287.4 1375.2,286 1378.4,284.5 C1381.6,283 1385.1,281.9 1389,280.3 C1392.9,278.7 1397.5,276.6 1401.7,275 C1405.9,273.4 1410.4,272.2 1414.3,270.8 C1418.2,269.4 1421.4,268.2 1424.9,266.6 C1428.4,265 1431.9,263.4 1435.4,261.3 C1438.9,259.2 1442.5,256.7 1446,253.9 C1449.5,251.1 1453.3,247.6 1456.5,244.4 C1459.7,241.2 1462.2,238.1 1465,234.9 C1467.8,231.7 1470.2,228.2 1473.4,225.4 C1476.6,222.6 1480.5,220.4 1484,218 C1487.5,215.6 1491,212.8 1494.5,210.7 C1498,208.6 1501.9,206.8 1505.1,205.4 C1508.3,204 1510.9,203.1 1513.5,202.2 C1516.1,201.2 1519.3,200.1 1520.5,199.7" fill="none" stroke="#e3b53b" stroke-width="2" stroke-linejoin="round" stroke-linecap="round"/>
<path d="M0,100 C0.5,99.9 0.7,99.8 2.9,99.2 C5.1,98.6 9.7,95.9 13.1,96.6 C16.5,97.3 19.6,100.7 23.2,103.5 C26.8,106.3 30.9,110.8 34.8,113.7 C38.7,116.6 42.5,118.3 46.4,121 C50.3,123.7 54.7,126.8 58.1,129.7 C61.5,132.6 63.9,135.8 66.8,138.4 C69.7,141.1 73.1,143.9 75.5,145.6 C77.9,147.3 79.4,148 81.3,148.5 C83.2,149 84.7,149.5 87.1,148.5 C89.5,147.5 92.9,145.6 95.8,142.7 C98.7,139.8 101.6,135 104.5,131.1 C107.4,127.2 110.6,122.9 113.2,119.5 C115.8,116.1 117.7,113.5 120,110.8 C122.3,108 124.5,105.5 127,103 C129.5,100.5 132,97.7 135,96 C138,94.3 142.2,94.3 145.1,92.7 C148,91.1 150.1,88.1 152.6,86.5 C155.1,84.9 157.6,83.2 160.1,83.2 C162.6,83.2 164.7,84.5 167.6,86.5 C170.5,88.5 174.2,92.1 177.6,95.2 C180.9,98.3 184.3,102 187.7,105.3 C191,108.6 194.4,112.4 197.7,115.3 C201,118.2 204.4,119.9 207.7,122.8 C211,125.7 214.8,129.5 217.7,132.8 C220.6,136.2 222.4,139.1 225.3,142.9 C228.2,146.7 232,151.9 235.3,155.4 C238.6,158.9 242,162.3 245.3,164.2 C248.6,166.1 252,166 255.3,166.7 C258.6,167.4 262,168.4 265.4,168.4 C268.8,168.4 272.1,167.2 275.4,166.7 C278.7,166.2 282.1,165.8 285.4,165.4 C288.7,165 292,165 295.4,164.2 C298.8,163.4 302.1,161.4 305.5,160.4 C308.9,159.4 312.8,158.2 315.5,158.4 C318.2,158.6 319.3,158.2 321.6,161.3 C323.9,164.4 326.1,171.4 329.5,177.2 C332.9,183 338,189.3 342.2,196.2 C346.4,203 350.1,209.6 354.8,218.3 C359.6,227 365.4,241.5 370.7,248.4 C376,255.3 382,255 386.5,259.5 C391,264 394.4,271.6 397.6,275.3 C400.8,279 402.1,281.2 405.5,281.7 C408.9,282.2 414,279.6 418.2,278.5 C422.4,277.4 426.1,276.8 430.8,275.3 C435.6,273.8 441.9,270.9 446.7,269.6 C451.4,268.3 455.6,266.7 459.3,267.4 C463,268.1 464.6,273.7 468.8,273.7 C473,273.7 479.4,269.5 484.7,267.4 C490,265.3 496.3,262.5 500.5,261.1 C504.7,259.7 506.8,259.5 510,258.9 C513.2,258.3 517,257.6 520,257.7 C523,257.8 524.7,257.6 527.9,259.2 C531.1,260.8 535,264.3 539,267.2 C543,270.1 548,272.5 551.7,276.7 C555.4,280.9 558,286.2 561.2,292.5 C564.4,298.8 567,306 570.7,314.7 C574.4,323.4 579.1,337 583.3,344.7 C587.5,352.4 592.3,356.1 596,360.6 C599.7,365.1 601.8,370.9 605.5,371.7 C609.2,372.5 614,367.7 618.2,365.3 C622.4,362.9 626.6,360.6 630.8,357.4 C635,354.2 639.8,349.7 643.5,346.3 C647.2,342.9 649.3,338.8 653,336.8 C656.7,334.8 662,334.8 665.7,334.3 C669.4,333.8 671.5,333.3 675.2,333.7 C678.9,334.1 683.6,333.6 687.8,336.8 C692,340 696.8,347.4 700.5,352.7 C704.2,358 706.8,361.9 710,368.5 C713.2,375.1 716.2,384.6 720,392.6 C723.8,400.6 728.5,409.2 732.7,416.3 C736.9,423.4 741.1,430.3 745.3,435.3 C749.5,440.3 753.2,444.6 758,446.4 C762.8,448.1 768.5,446.1 773.8,445.8 C779.1,445.5 785,446 789.7,444.8 C794.5,443.6 798.1,441.7 802.3,438.5 C806.5,435.3 811.3,430 815,425.8 C818.7,421.6 821.3,416.9 824.5,413.2 C827.7,409.5 830.3,406.1 834,403.7 C837.7,401.3 842.5,399.5 846.7,398.9 C850.9,398.3 855.1,401.8 859.3,399.9 C863.5,398 867.8,393 872,387.8 C876.2,382.6 880.5,375.1 884.7,368.8 C888.9,362.5 893.1,356.7 897.3,349.8 C901.5,342.9 906.2,334.6 910,327.7 C913.8,320.8 916.2,315.2 920,308.3 C923.8,301.4 928.5,292.3 932.7,286.2 C936.9,280.1 941.1,275.6 945.3,271.9 C949.5,268.2 953.2,269.5 958,264 C962.8,258.5 968.5,245.6 973.8,238.7 C979.1,231.8 985,227 989.7,222.8 C994.5,218.6 998.1,215.4 1002.3,213.3 C1006.5,211.2 1010.8,211.5 1015,210.2 C1019.2,208.9 1024.5,206 1027.7,205.4 C1030.9,204.8 1030.8,204.6 1034,206.4 C1037.2,208.2 1042.5,212.7 1046.7,216.5 C1050.9,220.3 1055.1,225 1059.3,229.2 C1063.5,233.4 1067.8,237.6 1072,241.8 C1076.2,246 1081.2,251.5 1084.7,254.5 C1088.2,257.5 1090.5,258.1 1093,260 C1095.5,261.9 1097.8,262.1 1100,265.9 C1102.2,269.7 1104.2,277.2 1106.3,282.8 C1108.4,288.4 1110.2,293.8 1112.7,299.7 C1115.2,305.6 1118.2,313.2 1121.4,318.5 C1124.6,323.8 1128.4,326.6 1131.9,331.7 C1135.4,336.8 1138.5,344.6 1142.5,348.8 C1146.5,353 1151.8,355.6 1155.7,356.7 C1159.7,357.8 1163.1,356.3 1166.2,355.4 C1169.3,354.5 1171.6,352.6 1174.2,351.5 C1176.8,350.4 1179.5,351.2 1182.1,348.8 C1184.7,346.4 1186.9,341.5 1190,336.9 C1193.1,332.3 1197,326.4 1200.5,321.1 C1204,315.8 1207.4,309.4 1211.1,305.3 C1214.8,301.2 1218.6,296.4 1222.6,296.4 C1226.6,296.4 1230.9,301.6 1235.1,305.2 C1239.3,308.8 1243.5,312.3 1247.7,317.7 C1251.9,323.1 1256,332.4 1260.2,337.8 C1264.4,343.2 1268.5,347.6 1272.7,350.3 C1276.9,353 1281.1,353.3 1285.3,354.1 C1289.5,354.9 1293.6,356.8 1297.8,355.3 C1302,353.8 1305.7,350.7 1310.3,345.3 C1314.9,339.9 1321.2,329.8 1325.4,322.7 C1329.6,315.6 1331.7,311.9 1335.4,302.7 C1339.2,293.5 1343.8,278.1 1347.9,267.6 C1352,257.2 1356.3,247.4 1360,240 C1363.7,232.6 1367.3,227.8 1370,223.3 C1372.7,218.8 1373.8,216.5 1376.3,212.8 C1378.8,209.1 1382,204.2 1384.8,201.2 C1387.6,198.2 1390.4,196.6 1393.2,194.8 C1396,193 1398.9,191.5 1401.7,190.6 C1404.5,189.7 1407.3,189.5 1410.1,189.6 C1412.9,189.7 1415.7,190 1418.5,191.2 C1421.3,192.4 1424.2,194.5 1427,196.9 C1429.8,199.3 1432.9,202.9 1435.4,205.4 C1437.9,207.9 1439.7,210 1441.8,211.7 C1443.9,213.3 1445.6,215.1 1448.1,215.3 C1450.5,215.5 1453.7,213.5 1456.5,212.8 C1459.3,212.1 1462.2,211.3 1465,211.1 C1467.8,210.8 1470.6,211.4 1473.4,211.3 C1476.2,211.2 1479.1,211.4 1481.9,210.7 C1484.7,210 1487.5,208.1 1490.3,206.9 C1493.1,205.7 1496,204.6 1498.8,203.3 C1501.6,202 1504.4,200.8 1507.2,199.1 C1510,197.4 1513.4,194.8 1515.6,193.4 C1517.8,192 1519.7,191.1 1520.5,190.6" fill="none" stroke="#f23645" stroke-width="2" stroke-linejoin="round" stroke-linecap="round"/>
<rect x="1" y="67.4" width="1" height="51.7" fill="#e8000b"/>
<rect x="0" y="69.6" width="3" height="38" fill="#e8000b"/>
<rect x="5" y="107.5" width="1" height="27.4" fill="#e8000b"/>
<rect x="4" y="124.4" width="3" height="9.5" fill="#e8000b"/>
<rect x="9" y="118.1" width="1" height="40.1" fill="#e8000b"/>
<rect x="8" y="139.2" width="3" height="17.9" fill="#e8000b"/>
<rect x="13" y="126.5" width="1" height="38" fill="#22804f"/>
<rect x="12" y="141.3" width="3" height="16.9" fill="#22804f"/>
<rect x="17" y="119.2" width="1" height="79.2" fill="#e8000b"/>
<rect x="16" y="145.5" width="3" height="50.7" fill="#e8000b"/>
<rect x="21" y="160.3" width="1" height="38" fill="#22804f"/>
<rect x="20" y="170.9" width="3" height="25.3" fill="#22804f"/>
<rect x="25" y="147.7" width="1" height="31.7" fill="#22804f"/>
<rect x="24" y="159.3" width="3" height="12.7" fill="#22804f"/>
<rect x="29" y="158.2" width="1" height="22.2" fill="#e8000b"/>
<rect x="28" y="159.3" width="3" height="12.7" fill="#e8000b"/>
<rect x="33" y="154" width="1" height="28.5" fill="#22804f"/>
<rect x="32" y="162.4" width="3" height="14.8" fill="#22804f"/>
<rect x="38" y="124.4" width="1" height="42.2" fill="#22804f"/>
<rect x="37" y="128.7" width="3" height="33.8" fill="#22804f"/>
<rect x="42" y="125.5" width="1" height="43.3" fill="#e8000b"/>
<rect x="41" y="132.9" width="3" height="7.4" fill="#e8000b"/>
<rect x="46" y="124.4" width="1" height="32.7" fill="#e8000b"/>
<rect x="45" y="140.3" width="3" height="14.8" fill="#e8000b"/>
<rect x="50" y="143.4" width="1" height="14.8" fill="#22804f"/>
<rect x="49" y="147.7" width="3" height="7.4" fill="#22804f"/>
<rect x="54" y="141.3" width="1" height="32.7" fill="#e8000b"/>
<rect x="53" y="147.7" width="3" height="20.1" fill="#e8000b"/>
<rect x="58" y="126.5" width="1" height="45.4" fill="#22804f"/>
<rect x="57" y="149.8" width="3" height="17.9" fill="#22804f"/>
<rect x="62" y="141.3" width="1" height="38" fill="#e8000b"/>
<rect x="61" y="148.7" width="3" height="6.3" fill="#e8000b"/>
<rect x="66" y="109.7" width="1" height="81.3" fill="#22804f"/>
<rect x="65" y="125.5" width="3" height="29.6" fill="#22804f"/>
<rect x="70" y="109.7" width="1" height="38" fill="#e8000b"/>
<rect x="69" y="125.5" width="3" height="16.9" fill="#e8000b"/>
<rect x="75" y="140.3" width="1" height="12.7" fill="#e8000b"/>
<rect x="74" y="142.4" width="3" height="3.2" fill="#e8000b"/>
<rect x="79" y="130.8" width="1" height="15.8" fill="#22804f"/>
<rect x="78" y="133.9" width="3" height="11.6" fill="#22804f"/>
<rect x="83" y="105.4" width="1" height="29.6" fill="#22804f"/>
<rect x="82" y="118.1" width="3" height="15.8" fill="#22804f"/>
<rect x="87" y="105.4" width="1" height="28.5" fill="#22804f"/>
<rect x="86" y="118.1" width="3" height="8.4" fill="#22804f"/>
<rect x="91" y="53.7" width="1" height="78.1" fill="#22804f"/>
<rect x="90" y="73.8" width="3" height="44.3" fill="#22804f"/>
<rect x="95" y="54.8" width="1" height="36.9" fill="#22804f"/>
<rect x="94" y="56.9" width="3" height="14.8" fill="#22804f"/>
<rect x="99" y="54.8" width="1" height="14.8" fill="#e8000b"/>
<rect x="98" y="56.9" width="3" height="2.1" fill="#e8000b"/>
<rect x="103" y="57.9" width="1" height="23.2" fill="#e8000b"/>
<rect x="102" y="57.9" width="3" height="12.7" fill="#e8000b"/>
<rect x="107" y="56.9" width="1" height="14.8" fill="#22804f"/>
<rect x="106" y="59" width="3" height="11.6" fill="#22804f"/>
<rect x="112" y="46.3" width="1" height="28.5" fill="#22804f"/>
<rect x="111" y="59" width="3" height="8.4" fill="#22804f"/>
<rect x="116" y="7.3" width="1" height="98.2" fill="#e8000b"/>
<rect x="115" y="57.9" width="3" height="26.4" fill="#e8000b"/>
<rect x="120" y="71.7" width="1" height="33.8" fill="#e8000b"/>
<rect x="119" y="74.8" width="3" height="22.2" fill="#e8000b"/>
<rect x="124" y="78" width="1" height="22.2" fill="#e8000b"/>
<rect x="123" y="92.8" width="3" height="2.1" fill="#e8000b"/>
<rect x="128" y="79.1" width="1" height="13.7" fill="#e8000b"/>
<rect x="127" y="79.1" width="3" height="2.1" fill="#e8000b"/>
<rect x="132" y="81.2" width="1" height="31.7" fill="#e8000b"/>
<rect x="131" y="82.2" width="3" height="26.4" fill="#e8000b"/>
<rect x="136" y="81.2" width="1" height="40.1" fill="#22804f"/>
<rect x="135" y="82.4" width="3" height="28.3" fill="#22804f"/>
<rect x="140" y="59" width="1" height="35.5" fill="#22804f"/>
<rect x="139" y="78.8" width="3" height="6.3" fill="#22804f"/>
<rect x="144" y="50.6" width="1" height="40.1" fill="#22804f"/>
<rect x="143" y="52.7" width="3" height="27.4" fill="#22804f"/>
<rect x="148" y="48.9" width="1" height="49.8" fill="#e8000b"/>
<rect x="147" y="52.7" width="3" height="43.3" fill="#e8000b"/>
<rect x="153" y="87.5" width="1" height="15.8" fill="#e8000b"/>
<rect x="152" y="93.8" width="3" height="4.2" fill="#e8000b"/>
<rect x="157" y="87.4" width="1" height="19" fill="#22804f"/>
<rect x="156" y="92.7" width="3" height="4.2" fill="#22804f"/>
<rect x="161" y="80.1" width="1" height="24.3" fill="#e8000b"/>
<rect x="160" y="92.7" width="3" height="10.6" fill="#e8000b"/>
<rect x="165" y="99.1" width="1" height="33.8" fill="#e8000b"/>
<rect x="164" y="101.8" width="3" height="22.6" fill="#e8000b"/>
<rect x="169" y="120.2" width="1" height="41.2" fill="#e8000b"/>
<rect x="168" y="122.9" width="3" height="33.1" fill="#e8000b"/>
<rect x="173" y="122.9" width="1" height="36.3" fill="#22804f"/>
<rect x="172" y="127.5" width="3" height="28.5" fill="#22804f"/>
<rect x="177" y="122.3" width="1" height="9.5" fill="#22804f"/>
<rect x="176" y="123.3" width="3" height="7.4" fill="#22804f"/>
<rect x="181" y="112.8" width="1" height="15.8" fill="#e8000b"/>
<rect x="180" y="122.9" width="3" height="4.6" fill="#e8000b"/>
<rect x="185" y="124.4" width="1" height="49.6" fill="#e8000b"/>
<rect x="184" y="127.1" width="3" height="44.7" fill="#e8000b"/>
<rect x="190" y="145.5" width="1" height="29.6" fill="#22804f"/>
<rect x="189" y="156" width="3" height="15.8" fill="#22804f"/>
<rect x="194" y="115.9" width="1" height="66.5" fill="#e8000b"/>
<rect x="193" y="156" width="3" height="15.8" fill="#e8000b"/>
<rect x="198" y="145.5" width="1" height="34.8" fill="#22804f"/>
<rect x="197" y="169.8" width="3" height="1.1" fill="#22804f"/>
<rect x="202" y="151.8" width="1" height="21.1" fill="#22804f"/>
<rect x="201" y="152.9" width="3" height="17.9" fill="#22804f"/>
<rect x="206" y="148.7" width="1" height="10.1" fill="#e8000b"/>
<rect x="205" y="152.5" width="3" height="1" fill="#e8000b"/>
<rect x="210" y="123.3" width="1" height="32.7" fill="#22804f"/>
<rect x="209" y="139.8" width="3" height="14.8" fill="#22804f"/>
<rect x="214" y="134.9" width="1" height="30.6" fill="#e8000b"/>
<rect x="213" y="139.8" width="3" height="17.3" fill="#e8000b"/>
<rect x="218" y="137" width="1" height="64.4" fill="#e8000b"/>
<rect x="217" y="157.1" width="3" height="35.9" fill="#e8000b"/>
<rect x="222" y="139.2" width="1" height="53.8" fill="#e8000b"/>
<rect x="221" y="191.9" width="3" height="1" fill="#e8000b"/>
<rect x="226" y="188.8" width="1" height="12.7" fill="#22804f"/>
<rect x="225" y="190.9" width="3" height="1.1" fill="#22804f"/>
<rect x="231" y="182" width="1" height="25.8" fill="#e8000b"/>
<rect x="230" y="190.9" width="3" height="16.9" fill="#e8000b"/>
<rect x="235" y="200.4" width="1" height="14.8" fill="#e8000b"/>
<rect x="234" y="205.2" width="3" height="2.5" fill="#e8000b"/>
<rect x="239" y="165.5" width="1" height="44.7" fill="#22804f"/>
<rect x="238" y="172.9" width="3" height="34.8" fill="#22804f"/>
<rect x="243" y="131.3" width="1" height="49" fill="#22804f"/>
<rect x="242" y="171.9" width="3" height="1.1" fill="#22804f"/>
<rect x="247" y="152.9" width="1" height="22.2" fill="#22804f"/>
<rect x="246" y="165.5" width="3" height="8.4" fill="#22804f"/>
<rect x="251" y="163" width="1" height="4.2" fill="#22804f"/>
<rect x="250" y="163.4" width="3" height="2.1" fill="#22804f"/>
<rect x="255" y="145.5" width="1" height="30.6" fill="#22804f"/>
<rect x="254" y="148.7" width="3" height="11" fill="#22804f"/>
<rect x="259" y="132.8" width="1" height="17.9" fill="#22804f"/>
<rect x="258" y="145.5" width="3" height="4.2" fill="#22804f"/>
<rect x="263" y="134.9" width="1" height="20.1" fill="#e8000b"/>
<rect x="262" y="145.5" width="3" height="9.1" fill="#e8000b"/>
<rect x="268" y="131.3" width="1" height="47.3" fill="#e8000b"/>
<rect x="267" y="153.9" width="3" height="17.9" fill="#e8000b"/>
<rect x="272" y="145.5" width="1" height="43.7" fill="#22804f"/>
<rect x="271" y="151.8" width="3" height="20.1" fill="#22804f"/>
<rect x="276" y="133.2" width="1" height="31.2" fill="#22804f"/>
<rect x="275" y="147.6" width="3" height="5.3" fill="#22804f"/>
<rect x="280" y="138.1" width="1" height="13.7" fill="#22804f"/>
<rect x="279" y="139.8" width="3" height="8.9" fill="#22804f"/>
<rect x="284" y="119.1" width="1" height="27" fill="#e8000b"/>
<rect x="283" y="139.8" width="3" height="5.7" fill="#e8000b"/>
<rect x="288" y="144.4" width="1" height="21.1" fill="#e8000b"/>
<rect x="287" y="145.1" width="3" height="18.8" fill="#e8000b"/>
<rect x="292" y="159.2" width="1" height="24.3" fill="#e8000b"/>
<rect x="291" y="163" width="3" height="7.4" fill="#e8000b"/>
<rect x="296" y="146.1" width="1" height="27.9" fill="#22804f"/>
<rect x="295" y="160.9" width="3" height="11" fill="#22804f"/>
<rect x="300" y="141.3" width="1" height="33.8" fill="#e8000b"/>
<rect x="299" y="160.9" width="3" height="13.1" fill="#e8000b"/>
<rect x="304" y="164.5" width="1" height="12" fill="#22804f"/>
<rect x="303" y="165.5" width="3" height="8.4" fill="#22804f"/>
<rect x="309" y="155.4" width="1" height="11.8" fill="#22804f"/>
<rect x="308" y="161.3" width="3" height="4.6" fill="#22804f"/>
<rect x="313" y="155.3" width="1" height="9.2" fill="#e8000b"/>
<rect x="312" y="160.6" width="3" height="2.6" fill="#e8000b"/>
<rect x="317" y="155.3" width="1" height="10.6" fill="#e8000b"/>
<rect x="316" y="160.6" width="3" height="4" fill="#e8000b"/>
<rect x="321" y="156.6" width="1" height="38.3" fill="#e8000b"/>
<rect x="320" y="163.2" width="3" height="27.7" fill="#e8000b"/>
<rect x="325" y="167.2" width="1" height="141.2" fill="#e8000b"/>
<rect x="324" y="190.9" width="3" height="114.8" fill="#e8000b"/>
<rect x="329" y="300.4" width="1" height="42.2" fill="#e8000b"/>
<rect x="328" y="304.4" width="3" height="31.7" fill="#e8000b"/>
<rect x="333" y="287.2" width="1" height="49.6" fill="#22804f"/>
<rect x="332" y="303" width="3" height="33" fill="#22804f"/>
<rect x="337" y="266.1" width="1" height="39.6" fill="#22804f"/>
<rect x="336" y="284.6" width="3" height="18.5" fill="#22804f"/>
<rect x="341" y="251.6" width="1" height="35.6" fill="#22804f"/>
<rect x="340" y="272.7" width="3" height="11.9" fill="#22804f"/>
<rect x="346" y="260.8" width="1" height="44.9" fill="#e8000b"/>
<rect x="345" y="272.7" width="3" height="29" fill="#e8000b"/>
<rect x="350" y="296.4" width="1" height="34.3" fill="#e8000b"/>
<rect x="349" y="300.4" width="3" height="22.4" fill="#e8000b"/>
<rect x="354" y="314.1" width="1" height="11.3" fill="#22804f"/>
<rect x="353" y="318.9" width="3" height="5.3" fill="#22804f"/>
<rect x="358" y="314.9" width="1" height="10.6" fill="#e8000b"/>
<rect x="357" y="318.9" width="3" height="4" fill="#e8000b"/>
<rect x="362" y="284.6" width="1" height="59.4" fill="#22804f"/>
<rect x="361" y="297.8" width="3" height="25.1" fill="#22804f"/>
<rect x="366" y="279.3" width="1" height="26.4" fill="#22804f"/>
<rect x="365" y="287.2" width="3" height="10.6" fill="#22804f"/>
<rect x="370" y="255.5" width="1" height="38.3" fill="#22804f"/>
<rect x="369" y="280.6" width="3" height="6.6" fill="#22804f"/>
<rect x="374" y="220.7" width="1" height="61.2" fill="#22804f"/>
<rect x="373" y="225.2" width="3" height="55.4" fill="#22804f"/>
<rect x="378" y="221.8" width="1" height="23.2" fill="#e8000b"/>
<rect x="377" y="225.2" width="3" height="18.5" fill="#e8000b"/>
<rect x="383" y="221.8" width="1" height="23.2" fill="#22804f"/>
<rect x="382" y="237.9" width="3" height="1" fill="#22804f"/>
<rect x="387" y="227.8" width="1" height="17.2" fill="#22804f"/>
<rect x="386" y="230.5" width="3" height="7.9" fill="#22804f"/>
<rect x="391" y="224.4" width="1" height="40.4" fill="#e8000b"/>
<rect x="390" y="230.5" width="3" height="33" fill="#e8000b"/>
<rect x="395" y="252.9" width="1" height="39.6" fill="#e8000b"/>
<rect x="394" y="263.5" width="3" height="14.5" fill="#e8000b"/>
<rect x="399" y="266.1" width="1" height="29" fill="#e8000b"/>
<rect x="398" y="277.4" width="3" height="11.1" fill="#e8000b"/>
<rect x="403" y="256.9" width="1" height="33" fill="#22804f"/>
<rect x="402" y="264.8" width="3" height="23.7" fill="#22804f"/>
<rect x="407" y="260.8" width="1" height="12.7" fill="#e8000b"/>
<rect x="406" y="263.5" width="3" height="9.2" fill="#e8000b"/>
<rect x="411" y="266.1" width="1" height="23.7" fill="#e8000b"/>
<rect x="410" y="272.7" width="3" height="15.8" fill="#e8000b"/>
<rect x="415" y="279.3" width="1" height="9.2" fill="#e8000b"/>
<rect x="414" y="287.2" width="3" height="1" fill="#e8000b"/>
<rect x="419" y="271.4" width="1" height="18.5" fill="#22804f"/>
<rect x="418" y="284.6" width="3" height="4" fill="#22804f"/>
<rect x="424" y="266.1" width="1" height="23.7" fill="#e8000b"/>
<rect x="423" y="284.6" width="3" height="3.2" fill="#e8000b"/>
<rect x="428" y="279.3" width="1" height="17.2" fill="#22804f"/>
<rect x="427" y="284.6" width="3" height="4" fill="#22804f"/>
<rect x="432" y="271.4" width="1" height="15.8" fill="#22804f"/>
<rect x="431" y="280.1" width="3" height="5.8" fill="#22804f"/>
<rect x="436" y="270.1" width="1" height="11.1" fill="#e8000b"/>
<rect x="435" y="274.8" width="3" height="4.5" fill="#e8000b"/>
<rect x="440" y="271.9" width="1" height="10" fill="#22804f"/>
<rect x="439" y="276.6" width="3" height="2.6" fill="#22804f"/>
<rect x="444" y="274" width="1" height="14.5" fill="#e8000b"/>
<rect x="443" y="276.1" width="3" height="4.5" fill="#e8000b"/>
<rect x="448" y="274.5" width="1" height="12.7" fill="#22804f"/>
<rect x="447" y="276.1" width="3" height="4.5" fill="#22804f"/>
<rect x="452" y="260.3" width="1" height="17.7" fill="#22804f"/>
<rect x="451" y="267.4" width="3" height="9.2" fill="#22804f"/>
<rect x="456" y="242.3" width="1" height="27.7" fill="#22804f"/>
<rect x="455" y="256.9" width="3" height="10.6" fill="#22804f"/>
<rect x="461" y="248.9" width="1" height="10.6" fill="#22804f"/>
<rect x="460" y="251.6" width="3" height="5.3" fill="#22804f"/>
<rect x="465" y="247" width="1" height="18" fill="#e8000b"/>
<rect x="464" y="250.2" width="3" height="13.7" fill="#e8000b"/>
<rect x="469" y="248.1" width="1" height="23.2" fill="#22804f"/>
<rect x="468" y="252.3" width="3" height="11.6" fill="#22804f"/>
<rect x="473" y="229.1" width="1" height="38" fill="#22804f"/>
<rect x="472" y="231.2" width="3" height="21.8" fill="#22804f"/>
<rect x="477" y="226.3" width="1" height="33.4" fill="#e8000b"/>
<rect x="476" y="232.3" width="3" height="26.4" fill="#e8000b"/>
<rect x="481" y="239" width="1" height="20.7" fill="#22804f"/>
<rect x="480" y="243.9" width="3" height="9.1" fill="#22804f"/>
<rect x="485" y="243.9" width="1" height="7.4" fill="#e8000b"/>
<rect x="484" y="244.5" width="3" height="3.6" fill="#e8000b"/>
<rect x="489" y="236.9" width="1" height="12.3" fill="#22804f"/>
<rect x="488" y="243.2" width="3" height="5.5" fill="#22804f"/>
<rect x="493" y="240.7" width="1" height="12.3" fill="#e8000b"/>
<rect x="492" y="243.2" width="3" height="5.5" fill="#e8000b"/>
<rect x="497" y="239.7" width="1" height="13.3" fill="#22804f"/>
<rect x="496" y="246" width="3" height="2.7" fill="#22804f"/>
<rect x="502" y="216.4" width="1" height="50.7" fill="#22804f"/>
<rect x="501" y="221.3" width="3" height="25.4" fill="#22804f"/>
<rect x="506" y="209" width="1" height="101.4" fill="#e8000b"/>
<rect x="505" y="221.3" width="3" height="79.7" fill="#e8000b"/>
<rect x="510" y="269.2" width="1" height="37" fill="#22804f"/>
<rect x="509" y="282.5" width="3" height="18.4" fill="#22804f"/>
<rect x="514" y="269.2" width="1" height="14.8" fill="#22804f"/>
<rect x="513" y="270.3" width="3" height="12.7" fill="#22804f"/>
<rect x="518" y="259.7" width="1" height="21.1" fill="#22804f"/>
<rect x="517" y="267.1" width="3" height="4.9" fill="#22804f"/>
<rect x="522" y="262.3" width="1" height="16.1" fill="#22804f"/>
<rect x="521" y="263.9" width="3" height="3.8" fill="#22804f"/>
<rect x="526" y="249.2" width="1" height="22.2" fill="#e8000b"/>
<rect x="525" y="263.9" width="3" height="1.7" fill="#e8000b"/>
<rect x="530" y="261.4" width="1" height="72.3" fill="#e8000b"/>
<rect x="529" y="265" width="3" height="67" fill="#e8000b"/>
<rect x="534" y="318.9" width="1" height="24.3" fill="#22804f"/>
<rect x="533" y="331.1" width="3" height="1" fill="#22804f"/>
<rect x="539" y="321" width="1" height="12.3" fill="#e8000b"/>
<rect x="538" y="331.1" width="3" height="1.5" fill="#e8000b"/>
<rect x="543" y="326.3" width="1" height="13.3" fill="#e8000b"/>
<rect x="542" y="330.5" width="3" height="5.3" fill="#e8000b"/>
<rect x="547" y="308.3" width="1" height="33.8" fill="#22804f"/>
<rect x="546" y="310.9" width="3" height="24.9" fill="#22804f"/>
<rect x="551" y="306.2" width="1" height="18" fill="#e8000b"/>
<rect x="550" y="311.5" width="3" height="10.6" fill="#e8000b"/>
<rect x="555" y="311.3" width="1" height="67.6" fill="#e8000b"/>
<rect x="554" y="321.3" width="3" height="36.3" fill="#e8000b"/>
<rect x="559" y="355.1" width="1" height="71.4" fill="#e8000b"/>
<rect x="558" y="357.1" width="3" height="69.4" fill="#e8000b"/>
<rect x="563" y="422.7" width="1" height="61.4" fill="#e8000b"/>
<rect x="562" y="425.8" width="3" height="20.8" fill="#e8000b"/>
<rect x="567" y="431.5" width="1" height="23.8" fill="#22804f"/>
<rect x="566" y="432.8" width="3" height="21.3" fill="#22804f"/>
<rect x="571" y="425.3" width="1" height="10" fill="#22804f"/>
<rect x="570" y="429" width="3" height="5" fill="#22804f"/>
<rect x="575" y="412.7" width="1" height="23.8" fill="#22804f"/>
<rect x="574" y="417.7" width="3" height="12" fill="#22804f"/>
<rect x="580" y="392.2" width="1" height="34.3" fill="#22804f"/>
<rect x="579" y="397.7" width="3" height="20" fill="#22804f"/>
<rect x="584" y="387.7" width="1" height="38.8" fill="#e8000b"/>
<rect x="583" y="397.7" width="3" height="17.5" fill="#e8000b"/>
<rect x="588" y="387.7" width="1" height="27.1" fill="#22804f"/>
<rect x="587" y="393.9" width="3" height="15" fill="#22804f"/>
<rect x="592" y="385.7" width="1" height="11.5" fill="#22804f"/>
<rect x="591" y="387.7" width="3" height="7.5" fill="#22804f"/>
<rect x="596" y="384.7" width="1" height="13.5" fill="#e8000b"/>
<rect x="595" y="385.2" width="3" height="4.5" fill="#e8000b"/>
<rect x="600" y="373.9" width="1" height="25.8" fill="#22804f"/>
<rect x="599" y="376.4" width="3" height="13.3" fill="#22804f"/>
<rect x="604" y="362.1" width="1" height="23" fill="#22804f"/>
<rect x="603" y="362.6" width="3" height="13.8" fill="#22804f"/>
<rect x="608" y="239.2" width="1" height="125.8" fill="#22804f"/>
<rect x="607" y="252.2" width="3" height="111.7" fill="#22804f"/>
<rect x="612" y="234.2" width="1" height="99.7" fill="#e8000b"/>
<rect x="611" y="252.2" width="3" height="33.7" fill="#e8000b"/>
<rect x="617" y="274.1" width="1" height="29.6" fill="#e8000b"/>
<rect x="616" y="284.8" width="3" height="6.6" fill="#e8000b"/>
<rect x="621" y="284.4" width="1" height="14.2" fill="#e8000b"/>
<rect x="620" y="291.2" width="3" height="6.6" fill="#e8000b"/>
<rect x="625" y="285.6" width="1" height="20.1" fill="#22804f"/>
<rect x="624" y="285.9" width="3" height="11.9" fill="#22804f"/>
<rect x="629" y="249.1" width="1" height="39.3" fill="#22804f"/>
<rect x="628" y="260.1" width="3" height="25.8" fill="#22804f"/>
<rect x="633" y="236.9" width="1" height="36.4" fill="#e8000b"/>
<rect x="632" y="260.1" width="3" height="2.5" fill="#e8000b"/>
<rect x="637" y="257.1" width="1" height="72.3" fill="#e8000b"/>
<rect x="636" y="262.2" width="3" height="47.5" fill="#e8000b"/>
<rect x="641" y="299.1" width="1" height="37.5" fill="#e8000b"/>
<rect x="640" y="308.9" width="3" height="21.8" fill="#e8000b"/>
<rect x="645" y="328.8" width="1" height="20" fill="#e8000b"/>
<rect x="644" y="329.6" width="3" height="18" fill="#e8000b"/>
<rect x="649" y="331.3" width="1" height="16.3" fill="#22804f"/>
<rect x="648" y="338.8" width="3" height="8.3" fill="#22804f"/>
<rect x="654" y="327.6" width="1" height="33.8" fill="#e8000b"/>
<rect x="653" y="338.8" width="3" height="18.8" fill="#e8000b"/>
<rect x="658" y="348.1" width="1" height="78.4" fill="#e8000b"/>
<rect x="657" y="357.1" width="3" height="41.1" fill="#e8000b"/>
<rect x="662" y="383.2" width="1" height="33.8" fill="#22804f"/>
<rect x="661" y="392.7" width="3" height="6.2" fill="#22804f"/>
<rect x="666" y="367" width="1" height="33.8" fill="#22804f"/>
<rect x="665" y="384.6" width="3" height="8.1" fill="#22804f"/>
<rect x="670" y="372.4" width="1" height="13.5" fill="#22804f"/>
<rect x="669" y="380" width="3" height="4.6" fill="#22804f"/>
<rect x="674" y="370.3" width="1" height="14.3" fill="#e8000b"/>
<rect x="673" y="379.2" width="3" height="3.5" fill="#e8000b"/>
<rect x="678" y="380" width="1" height="28.9" fill="#e8000b"/>
<rect x="677" y="381.1" width="3" height="25.9" fill="#e8000b"/>
<rect x="682" y="374.6" width="1" height="38.4" fill="#22804f"/>
<rect x="681" y="394.1" width="3" height="13" fill="#22804f"/>
<rect x="686" y="373" width="1" height="27.8" fill="#e8000b"/>
<rect x="685" y="394.1" width="3" height="3.2" fill="#e8000b"/>
<rect x="690" y="391.9" width="1" height="13" fill="#e8000b"/>
<rect x="689" y="396.2" width="3" height="1.1" fill="#e8000b"/>
<rect x="695" y="390.8" width="1" height="9.2" fill="#e8000b"/>
<rect x="694" y="396.8" width="3" height="2.2" fill="#e8000b"/>
<rect x="699" y="390" width="1" height="14.9" fill="#22804f"/>
<rect x="698" y="396.8" width="3" height="2.7" fill="#22804f"/>
<rect x="703" y="395.4" width="1" height="20.8" fill="#e8000b"/>
<rect x="702" y="396.8" width="3" height="2.2" fill="#e8000b"/>
<rect x="707" y="381.1" width="1" height="22.4" fill="#22804f"/>
<rect x="706" y="393" width="3" height="5.9" fill="#22804f"/>
<rect x="711" y="381.1" width="1" height="115.1" fill="#e8000b"/>
<rect x="710" y="393" width="3" height="62.7" fill="#e8000b"/>
<rect x="715" y="453.5" width="1" height="27" fill="#e8000b"/>
<rect x="714" y="454.1" width="3" height="4.9" fill="#e8000b"/>
<rect x="719" y="456.8" width="1" height="11.6" fill="#e8000b"/>
<rect x="718" y="458.4" width="3" height="1.1" fill="#e8000b"/>
<rect x="723" y="456.8" width="1" height="12.4" fill="#e8000b"/>
<rect x="722" y="459.5" width="3" height="1.6" fill="#e8000b"/>
<rect x="727" y="454.1" width="1" height="43.2" fill="#e8000b"/>
<rect x="726" y="461.6" width="3" height="34.6" fill="#e8000b"/>
<rect x="732" y="482.7" width="1" height="20.8" fill="#22804f"/>
<rect x="731" y="494.6" width="3" height="1.6" fill="#22804f"/>
<rect x="736" y="476.5" width="1" height="63" fill="#e8000b"/>
<rect x="735" y="494.6" width="3" height="23.8" fill="#e8000b"/>
<rect x="740" y="488.1" width="1" height="38.4" fill="#22804f"/>
<rect x="739" y="517" width="3" height="1.4" fill="#22804f"/>
<rect x="744" y="488.1" width="1" height="33.5" fill="#22804f"/>
<rect x="743" y="503.5" width="3" height="14.3" fill="#22804f"/>
<rect x="748" y="421.1" width="1" height="83.8" fill="#22804f"/>
<rect x="747" y="437.8" width="3" height="66.5" fill="#22804f"/>
<rect x="752" y="435.9" width="1" height="31.1" fill="#e8000b"/>
<rect x="751" y="437.8" width="3" height="18.4" fill="#e8000b"/>
<rect x="756" y="442.7" width="1" height="20.3" fill="#22804f"/>
<rect x="755" y="449.5" width="3" height="6.8" fill="#22804f"/>
<rect x="760" y="425.1" width="1" height="25.7" fill="#e8000b"/>
<rect x="759" y="448.6" width="3" height="1.6" fill="#e8000b"/>
<rect x="764" y="398.9" width="1" height="65.9" fill="#22804f"/>
<rect x="763" y="400.8" width="3" height="48.6" fill="#22804f"/>
<rect x="768" y="389.2" width="1" height="29.2" fill="#22804f"/>
<rect x="767" y="396.8" width="3" height="4.9" fill="#22804f"/>
<rect x="773" y="385.4" width="1" height="12.7" fill="#22804f"/>
<rect x="772" y="388.1" width="3" height="9.2" fill="#22804f"/>
<rect x="777" y="387.3" width="1" height="9.5" fill="#e8000b"/>
<rect x="776" y="388.1" width="3" height="4.6" fill="#e8000b"/>
<rect x="781" y="385.6" width="1" height="24.3" fill="#22804f"/>
<rect x="780" y="387.8" width="3" height="6.3" fill="#22804f"/>
<rect x="785" y="375.1" width="1" height="27" fill="#e8000b"/>
<rect x="784" y="388.8" width="3" height="6.3" fill="#e8000b"/>
<rect x="789" y="330.7" width="1" height="71.8" fill="#22804f"/>
<rect x="788" y="387.8" width="3" height="7.4" fill="#22804f"/>
<rect x="793" y="385.6" width="1" height="54.5" fill="#e8000b"/>
<rect x="792" y="387.8" width="3" height="15.8" fill="#e8000b"/>
<rect x="797" y="395.8" width="1" height="16.3" fill="#22804f"/>
<rect x="796" y="400.9" width="3" height="2.7" fill="#22804f"/>
<rect x="801" y="399.4" width="1" height="13.3" fill="#e8000b"/>
<rect x="800" y="400.9" width="3" height="9.1" fill="#e8000b"/>
<rect x="805" y="393" width="1" height="24.3" fill="#22804f"/>
<rect x="804" y="398.3" width="3" height="11" fill="#22804f"/>
<rect x="810" y="395.1" width="1" height="22.2" fill="#e8000b"/>
<rect x="809" y="398.3" width="3" height="9.5" fill="#e8000b"/>
<rect x="814" y="388.8" width="1" height="51.3" fill="#22804f"/>
<rect x="813" y="394.1" width="3" height="13.7" fill="#22804f"/>
<rect x="818" y="377.2" width="1" height="34.9" fill="#22804f"/>
<rect x="817" y="393" width="3" height="2.1" fill="#22804f"/>
<rect x="822" y="389.9" width="1" height="8.5" fill="#e8000b"/>
<rect x="821" y="393" width="3" height="1.1" fill="#e8000b"/>
<rect x="826" y="384.6" width="1" height="14.8" fill="#e8000b"/>
<rect x="825" y="393" width="3" height="1" fill="#e8000b"/>
<rect x="830" y="393.7" width="1" height="27.9" fill="#e8000b"/>
<rect x="829" y="394.1" width="3" height="19.4" fill="#e8000b"/>
<rect x="834" y="383.1" width="1" height="31.1" fill="#22804f"/>
<rect x="833" y="389.9" width="3" height="23.7" fill="#22804f"/>
<rect x="838" y="359.2" width="1" height="76.7" fill="#e8000b"/>
<rect x="837" y="389.9" width="3" height="6.3" fill="#e8000b"/>
<rect x="842" y="395.1" width="1" height="31.7" fill="#e8000b"/>
<rect x="841" y="395.8" width="3" height="28.9" fill="#e8000b"/>
<rect x="846" y="417.3" width="1" height="8.9" fill="#e8000b"/>
<rect x="845" y="423.7" width="3" height="1.1" fill="#e8000b"/>
<rect x="851" y="413.1" width="1" height="21.6" fill="#22804f"/>
<rect x="850" y="418.4" width="3" height="10.6" fill="#22804f"/>
<rect x="855" y="388.2" width="1" height="31.3" fill="#22804f"/>
<rect x="854" y="388.2" width="3" height="30.8" fill="#22804f"/>
<rect x="859" y="373" width="1" height="22.8" fill="#22804f"/>
<rect x="858" y="375.1" width="3" height="13.7" fill="#22804f"/>
<rect x="863" y="364.1" width="1" height="24.7" fill="#22804f"/>
<rect x="862" y="364.5" width="3" height="11.6" fill="#22804f"/>
<rect x="867" y="242.3" width="1" height="143.3" fill="#22804f"/>
<rect x="866" y="277.4" width="3" height="88.2" fill="#22804f"/>
<rect x="871" y="250.3" width="1" height="81.6" fill="#22804f"/>
<rect x="870" y="252.9" width="3" height="24.6" fill="#22804f"/>
<rect x="875" y="237.3" width="1" height="28.1" fill="#22804f"/>
<rect x="874" y="252.9" width="3" height="1.1" fill="#22804f"/>
<rect x="879" y="237.3" width="1" height="96.4" fill="#e8000b"/>
<rect x="878" y="252.9" width="3" height="39.9" fill="#e8000b"/>
<rect x="883" y="279.3" width="1" height="39.7" fill="#e8000b"/>
<rect x="882" y="292.2" width="3" height="17.5" fill="#e8000b"/>
<rect x="888" y="308.8" width="1" height="36.9" fill="#e8000b"/>
<rect x="887" y="309.2" width="3" height="23.6" fill="#e8000b"/>
<rect x="892" y="265" width="1" height="75.2" fill="#22804f"/>
<rect x="891" y="276.9" width="3" height="56.9" fill="#22804f"/>
<rect x="896" y="236.2" width="1" height="42.1" fill="#22804f"/>
<rect x="895" y="256.2" width="3" height="21.8" fill="#22804f"/>
<rect x="900" y="237.3" width="1" height="48.4" fill="#e8000b"/>
<rect x="899" y="257.1" width="3" height="14.8" fill="#e8000b"/>
<rect x="904" y="249.2" width="1" height="23.6" fill="#22804f"/>
<rect x="903" y="263.2" width="3" height="8.7" fill="#22804f"/>
<rect x="908" y="252.1" width="1" height="25.9" fill="#e8000b"/>
<rect x="907" y="263.9" width="3" height="1.1" fill="#e8000b"/>
<rect x="912" y="210" width="1" height="55.4" fill="#22804f"/>
<rect x="911" y="227.5" width="3" height="37.5" fill="#22804f"/>
<rect x="916" y="222.9" width="1" height="37.9" fill="#e8000b"/>
<rect x="915" y="227" width="3" height="28.3" fill="#e8000b"/>
<rect x="920" y="251" width="1" height="12.6" fill="#22804f"/>
<rect x="919" y="254" width="3" height="1" fill="#22804f"/>
<rect x="925" y="250.3" width="1" height="20.7" fill="#e8000b"/>
<rect x="924" y="254" width="3" height="14.8" fill="#e8000b"/>
<rect x="929" y="258.9" width="1" height="22.2" fill="#22804f"/>
<rect x="928" y="267.6" width="3" height="1.1" fill="#22804f"/>
<rect x="933" y="262.1" width="1" height="26.4" fill="#e8000b"/>
<rect x="932" y="267.3" width="3" height="10.7" fill="#e8000b"/>
<rect x="937" y="254.3" width="1" height="33.2" fill="#22804f"/>
<rect x="936" y="274.3" width="3" height="3.7" fill="#22804f"/>
<rect x="941" y="256.2" width="1" height="36.6" fill="#e8000b"/>
<rect x="940" y="274.3" width="3" height="7.8" fill="#e8000b"/>
<rect x="945" y="233.1" width="1" height="76.7" fill="#22804f"/>
<rect x="944" y="249.7" width="3" height="31.4" fill="#22804f"/>
<rect x="949" y="242.9" width="1" height="18.8" fill="#e8000b"/>
<rect x="948" y="249.7" width="3" height="11.1" fill="#e8000b"/>
<rect x="953" y="214.1" width="1" height="49.5" fill="#22804f"/>
<rect x="952" y="222.9" width="3" height="36.9" fill="#22804f"/>
<rect x="957" y="194.5" width="1" height="31.7" fill="#22804f"/>
<rect x="956" y="206.1" width="3" height="18" fill="#22804f"/>
<rect x="961" y="141.7" width="1" height="66.6" fill="#22804f"/>
<rect x="960" y="175.9" width="3" height="31.3" fill="#22804f"/>
<rect x="966" y="134.9" width="1" height="68" fill="#22804f"/>
<rect x="965" y="141.3" width="3" height="35.3" fill="#22804f"/>
<rect x="970" y="135.4" width="1" height="33.4" fill="#e8000b"/>
<rect x="969" y="141.3" width="3" height="24.7" fill="#e8000b"/>
<rect x="974" y="163.9" width="1" height="9.5" fill="#e8000b"/>
<rect x="973" y="164.9" width="3" height="1.1" fill="#e8000b"/>
<rect x="978" y="165.4" width="1" height="35.5" fill="#e8000b"/>
<rect x="977" y="165.4" width="3" height="34.4" fill="#e8000b"/>
<rect x="982" y="185" width="1" height="22.2" fill="#22804f"/>
<rect x="981" y="197" width="3" height="1.3" fill="#22804f"/>
<rect x="986" y="194.5" width="1" height="19.4" fill="#e8000b"/>
<rect x="985" y="197" width="3" height="13.9" fill="#e8000b"/>
<rect x="990" y="137.9" width="1" height="75.2" fill="#22804f"/>
<rect x="989" y="144.2" width="3" height="66.8" fill="#22804f"/>
<rect x="994" y="121" width="1" height="45.6" fill="#e8000b"/>
<rect x="993" y="144.2" width="3" height="17.5" fill="#e8000b"/>
<rect x="998" y="151.2" width="1" height="32.7" fill="#e8000b"/>
<rect x="997" y="161.1" width="3" height="8.5" fill="#e8000b"/>
<rect x="1003" y="167" width="1" height="76.9" fill="#e8000b"/>
<rect x="1002" y="168" width="3" height="66.3" fill="#e8000b"/>
<rect x="1007" y="212.2" width="1" height="35.3" fill="#e8000b"/>
<rect x="1006" y="233.3" width="3" height="10.6" fill="#e8000b"/>
<rect x="1011" y="225.5" width="1" height="22" fill="#22804f"/>
<rect x="1010" y="236.9" width="3" height="7" fill="#22804f"/>
<rect x="1015" y="225.5" width="1" height="28.9" fill="#e8000b"/>
<rect x="1014" y="236.9" width="3" height="14.4" fill="#e8000b"/>
<rect x="1019" y="228.5" width="1" height="32.3" fill="#22804f"/>
<rect x="1018" y="249.2" width="3" height="1.7" fill="#22804f"/>
<rect x="1023" y="232.3" width="1" height="19" fill="#22804f"/>
<rect x="1022" y="236.1" width="3" height="14.2" fill="#22804f"/>
<rect x="1027" y="236.1" width="1" height="9.9" fill="#e8000b"/>
<rect x="1026" y="236.1" width="3" height="9.9" fill="#e8000b"/>
<rect x="1031" y="231.8" width="1" height="15.2" fill="#22804f"/>
<rect x="1030" y="233.3" width="3" height="12.7" fill="#22804f"/>
<rect x="1035" y="226.3" width="1" height="35.5" fill="#e8000b"/>
<rect x="1034" y="233.3" width="3" height="26.4" fill="#e8000b"/>
<rect x="1039" y="242.4" width="1" height="41" fill="#e8000b"/>
<rect x="1038" y="258" width="3" height="19" fill="#e8000b"/>
<rect x="1044" y="246.6" width="1" height="51.1" fill="#22804f"/>
<rect x="1043" y="255.1" width="3" height="22" fill="#22804f"/>
<rect x="1048" y="243.9" width="1" height="46.5" fill="#e8000b"/>
<rect x="1047" y="255.1" width="3" height="3.6" fill="#e8000b"/>
<rect x="1052" y="245.4" width="1" height="25.4" fill="#22804f"/>
<rect x="1051" y="249.2" width="3" height="10.6" fill="#22804f"/>
<rect x="1056" y="244.5" width="1" height="9.9" fill="#22804f"/>
<rect x="1055" y="249.2" width="3" height="1.1" fill="#22804f"/>
<rect x="1060" y="244.9" width="1" height="20.7" fill="#e8000b"/>
<rect x="1059" y="248.1" width="3" height="1.5" fill="#e8000b"/>
<rect x="1064" y="242.8" width="1" height="44.8" fill="#e8000b"/>
<rect x="1063" y="244.5" width="3" height="43.1" fill="#e8000b"/>
<rect x="1068" y="198" width="1" height="90.9" fill="#22804f"/>
<rect x="1067" y="240.7" width="3" height="46.9" fill="#22804f"/>
<rect x="1072" y="237.5" width="1" height="28.1" fill="#e8000b"/>
<rect x="1071" y="240.7" width="3" height="3.2" fill="#e8000b"/>
<rect x="1076" y="240.3" width="1" height="54.3" fill="#e8000b"/>
<rect x="1075" y="243.9" width="3" height="38" fill="#e8000b"/>
<rect x="1081" y="274.9" width="1" height="29.2" fill="#e8000b"/>
<rect x="1080" y="281.3" width="3" height="14.4" fill="#e8000b"/>
<rect x="1085" y="262.3" width="1" height="35.5" fill="#22804f"/>
<rect x="1084" y="272.8" width="3" height="23.2" fill="#22804f"/>
<rect x="1089" y="270.3" width="1" height="47.5" fill="#e8000b"/>
<rect x="1088" y="272.8" width="3" height="33.8" fill="#e8000b"/>
<rect x="1093" y="277" width="1" height="46.1" fill="#22804f"/>
<rect x="1092" y="281.9" width="3" height="24.7" fill="#22804f"/>
<rect x="1097" y="236.9" width="1" height="85.8" fill="#e8000b"/>
<rect x="1096" y="281.9" width="3" height="24.7" fill="#e8000b"/>
<rect x="1101" y="298.8" width="1" height="21.8" fill="#e8000b"/>
<rect x="1100" y="305.1" width="3" height="3.6" fill="#e8000b"/>
<rect x="1105" y="318" width="1" height="154.8" fill="#e8000b"/>
<rect x="1104" y="321" width="3" height="136.8" fill="#e8000b"/>
<rect x="1109" y="433.1" width="1" height="66.7" fill="#e8000b"/>
<rect x="1108" y="457.1" width="3" height="31.6" fill="#e8000b"/>
<rect x="1113" y="452.1" width="1" height="36.6" fill="#22804f"/>
<rect x="1112" y="484.1" width="3" height="4.5" fill="#22804f"/>
<rect x="1117" y="447.1" width="1" height="50.7" fill="#22804f"/>
<rect x="1116" y="451.1" width="3" height="32.8" fill="#22804f"/>
<rect x="1122" y="352.8" width="1" height="107.7" fill="#22804f"/>
<rect x="1121" y="376" width="3" height="75.7" fill="#22804f"/>
<rect x="1126" y="370.7" width="1" height="59.1" fill="#e8000b"/>
<rect x="1125" y="376" width="3" height="38" fill="#e8000b"/>
<rect x="1130" y="334.3" width="1" height="80.5" fill="#22804f"/>
<rect x="1129" y="362" width="3" height="52" fill="#22804f"/>
<rect x="1134" y="359.4" width="1" height="25.1" fill="#e8000b"/>
<rect x="1133" y="361.2" width="3" height="16.6" fill="#e8000b"/>
<rect x="1138" y="375.2" width="1" height="52.8" fill="#e8000b"/>
<rect x="1137" y="377.8" width="3" height="5.3" fill="#e8000b"/>
<rect x="1142" y="336.9" width="1" height="48.8" fill="#22804f"/>
<rect x="1141" y="369.1" width="3" height="14.8" fill="#22804f"/>
<rect x="1146" y="293.9" width="1" height="77.1" fill="#22804f"/>
<rect x="1145" y="301.3" width="3" height="68.7" fill="#22804f"/>
<rect x="1150" y="291.8" width="1" height="25.8" fill="#22804f"/>
<rect x="1149" y="299.2" width="3" height="2.1" fill="#22804f"/>
<rect x="1154" y="292.3" width="1" height="20.7" fill="#e8000b"/>
<rect x="1153" y="299.2" width="3" height="12" fill="#e8000b"/>
<rect x="1159" y="292.9" width="1" height="20.1" fill="#22804f"/>
<rect x="1158" y="302.4" width="3" height="9.5" fill="#22804f"/>
<rect x="1163" y="266.1" width="1" height="41.6" fill="#22804f"/>
<rect x="1162" y="273.9" width="3" height="28.5" fill="#22804f"/>
<rect x="1167" y="241.6" width="1" height="47.7" fill="#22804f"/>
<rect x="1166" y="259.7" width="3" height="14.8" fill="#22804f"/>
<rect x="1171" y="228" width="1" height="48" fill="#22804f"/>
<rect x="1170" y="251.3" width="3" height="9.3" fill="#22804f"/>
<rect x="1175" y="247.9" width="1" height="23.9" fill="#e8000b"/>
<rect x="1174" y="250.6" width="3" height="19.6" fill="#e8000b"/>
<rect x="1179" y="269" width="1" height="11.8" fill="#e8000b"/>
<rect x="1178" y="269" width="3" height="10.6" fill="#e8000b"/>
<rect x="1183" y="270.7" width="1" height="19" fill="#e8000b"/>
<rect x="1182" y="279.2" width="3" height="9.5" fill="#e8000b"/>
<rect x="1187" y="285.9" width="1" height="16.9" fill="#e8000b"/>
<rect x="1186" y="286.6" width="3" height="15.8" fill="#e8000b"/>
<rect x="1191" y="300.3" width="1" height="28.5" fill="#e8000b"/>
<rect x="1190" y="300.3" width="3" height="22.8" fill="#e8000b"/>
<rect x="1195" y="305.6" width="1" height="27.5" fill="#22804f"/>
<rect x="1194" y="313" width="3" height="10.1" fill="#22804f"/>
<rect x="1200" y="281.3" width="1" height="35.5" fill="#22804f"/>
<rect x="1199" y="295" width="3" height="18.4" fill="#22804f"/>
<rect x="1204" y="288" width="1" height="10.6" fill="#22804f"/>
<rect x="1203" y="295" width="3" height="1.5" fill="#22804f"/>
<rect x="1208" y="288" width="1" height="17.5" fill="#e8000b"/>
<rect x="1207" y="294.4" width="3" height="8" fill="#e8000b"/>
<rect x="1212" y="288" width="1" height="21.1" fill="#22804f"/>
<rect x="1211" y="290.1" width="3" height="10.6" fill="#22804f"/>
<rect x="1216" y="278" width="1" height="25.8" fill="#e8000b"/>
<rect x="1215" y="290.1" width="3" height="10.6" fill="#e8000b"/>
<rect x="1220" y="270" width="1" height="93" fill="#e8000b"/>
<rect x="1219" y="296.4" width="3" height="34.9" fill="#e8000b"/>
<rect x="1224" y="323.9" width="1" height="65.5" fill="#e8000b"/>
<rect x="1223" y="330.2" width="3" height="27.5" fill="#e8000b"/>
<rect x="1228" y="350.3" width="1" height="19.4" fill="#e8000b"/>
<rect x="1227" y="357" width="3" height="5.9" fill="#e8000b"/>
<rect x="1232" y="363" width="1" height="48.2" fill="#e8000b"/>
<rect x="1231" y="363" width="3" height="22.2" fill="#e8000b"/>
<rect x="1237" y="373.1" width="1" height="23.7" fill="#22804f"/>
<rect x="1236" y="382" width="3" height="3.2" fill="#22804f"/>
<rect x="1241" y="365.1" width="1" height="18" fill="#22804f"/>
<rect x="1240" y="379.9" width="3" height="3.2" fill="#22804f"/>
<rect x="1245" y="352.4" width="1" height="34.9" fill="#22804f"/>
<rect x="1244" y="371" width="3" height="9.9" fill="#22804f"/>
<rect x="1249" y="364.7" width="1" height="25.4" fill="#e8000b"/>
<rect x="1248" y="371" width="3" height="6.8" fill="#e8000b"/>
<rect x="1253" y="374" width="1" height="14.8" fill="#e8000b"/>
<rect x="1252" y="377.3" width="3" height="10.6" fill="#e8000b"/>
<rect x="1257" y="383" width="1" height="13.7" fill="#e8000b"/>
<rect x="1256" y="387.3" width="3" height="8.5" fill="#e8000b"/>
<rect x="1261" y="387.3" width="1" height="17.5" fill="#e8000b"/>
<rect x="1260" y="394.2" width="3" height="3.6" fill="#e8000b"/>
<rect x="1265" y="383" width="1" height="15.4" fill="#22804f"/>
<rect x="1264" y="390.9" width="3" height="7" fill="#22804f"/>
<rect x="1269" y="366.1" width="1" height="28.9" fill="#22804f"/>
<rect x="1268" y="368.9" width="3" height="23.2" fill="#22804f"/>
<rect x="1274" y="343.9" width="1" height="31.7" fill="#22804f"/>
<rect x="1273" y="348.2" width="3" height="21.6" fill="#22804f"/>
<rect x="1278" y="299.2" width="1" height="50.1" fill="#22804f"/>
<rect x="1277" y="327" width="3" height="21.6" fill="#22804f"/>
<rect x="1282" y="316.1" width="1" height="12.7" fill="#22804f"/>
<rect x="1281" y="321.1" width="3" height="5.9" fill="#22804f"/>
<rect x="1286" y="314.8" width="1" height="16.5" fill="#e8000b"/>
<rect x="1285" y="320.3" width="3" height="2.5" fill="#e8000b"/>
<rect x="1290" y="302.1" width="1" height="27.5" fill="#22804f"/>
<rect x="1289" y="306.3" width="3" height="16.5" fill="#22804f"/>
<rect x="1294" y="294.3" width="1" height="24.7" fill="#e8000b"/>
<rect x="1293" y="306.3" width="3" height="1.3" fill="#e8000b"/>
<rect x="1298" y="298.5" width="1" height="76.1" fill="#e8000b"/>
<rect x="1297" y="307" width="3" height="1.1" fill="#e8000b"/>
<rect x="1302" y="242.5" width="1" height="93" fill="#22804f"/>
<rect x="1301" y="288" width="3" height="19.6" fill="#22804f"/>
<rect x="1306" y="280.6" width="1" height="19" fill="#22804f"/>
<rect x="1305" y="285.8" width="3" height="2.7" fill="#22804f"/>
<rect x="1310" y="252.1" width="1" height="38.5" fill="#22804f"/>
<rect x="1309" y="254.7" width="3" height="31.3" fill="#22804f"/>
<rect x="1315" y="230.4" width="1" height="29.6" fill="#22804f"/>
<rect x="1314" y="246.6" width="3" height="9.1" fill="#22804f"/>
<rect x="1319" y="243" width="1" height="42.3" fill="#e8000b"/>
<rect x="1318" y="246.2" width="3" height="28.5" fill="#e8000b"/>
<rect x="1323" y="232.5" width="1" height="75" fill="#22804f"/>
<rect x="1322" y="238.2" width="3" height="36.6" fill="#22804f"/>
<rect x="1327" y="224" width="1" height="85.6" fill="#22804f"/>
<rect x="1326" y="233.5" width="3" height="5.3" fill="#22804f"/>
<rect x="1331" y="195.9" width="1" height="39.7" fill="#22804f"/>
<rect x="1330" y="205" width="3" height="29.6" fill="#22804f"/>
<rect x="1335" y="198.7" width="1" height="15.4" fill="#e8000b"/>
<rect x="1334" y="204.4" width="3" height="4.2" fill="#e8000b"/>
<rect x="1339" y="193" width="1" height="28.9" fill="#22804f"/>
<rect x="1338" y="200.8" width="3" height="7.8" fill="#22804f"/>
<rect x="1343" y="173.9" width="1" height="28.9" fill="#22804f"/>
<rect x="1342" y="198.7" width="3" height="3.2" fill="#22804f"/>
<rect x="1347" y="143.1" width="1" height="66.8" fill="#22804f"/>
<rect x="1346" y="149" width="3" height="49.7" fill="#22804f"/>
<rect x="1352" y="148" width="1" height="19" fill="#e8000b"/>
<rect x="1351" y="149" width="3" height="12.7" fill="#e8000b"/>
<rect x="1356" y="161.7" width="1" height="8.5" fill="#e8000b"/>
<rect x="1355" y="161.7" width="3" height="8" fill="#e8000b"/>
<rect x="1360" y="166.3" width="1" height="11.2" fill="#e8000b"/>
<rect x="1359" y="167.6" width="3" height="6.3" fill="#e8000b"/>
<rect x="1364" y="151.6" width="1" height="24.9" fill="#22804f"/>
<rect x="1363" y="165.9" width="3" height="8" fill="#22804f"/>
<rect x="1368" y="161.7" width="1" height="21.1" fill="#e8000b"/>
<rect x="1367" y="165.9" width="3" height="15.2" fill="#e8000b"/>
<rect x="1372" y="171.8" width="1" height="21.6" fill="#e8000b"/>
<rect x="1371" y="180.7" width="3" height="1" fill="#e8000b"/>
<rect x="1376" y="176.5" width="1" height="22.2" fill="#e8000b"/>
<rect x="1375" y="180.7" width="3" height="4.6" fill="#e8000b"/>
<rect x="1380" y="178.2" width="1" height="8.5" fill="#22804f"/>
<rect x="1379" y="181.8" width="3" height="3.6" fill="#22804f"/>
<rect x="1384" y="176.5" width="1" height="10.1" fill="#22804f"/>
<rect x="1383" y="176.9" width="3" height="4.2" fill="#22804f"/>
<rect x="1388" y="176.1" width="1" height="27.9" fill="#e8000b"/>
<rect x="1387" y="176.5" width="3" height="27" fill="#e8000b"/>
<rect x="1393" y="195.9" width="1" height="20.3" fill="#22804f"/>
<rect x="1392" y="202.9" width="3" height="1" fill="#22804f"/>
<rect x="1397" y="195.9" width="1" height="16.9" fill="#e8000b"/>
<rect x="1396" y="202.9" width="3" height="1" fill="#e8000b"/>
<rect x="1401" y="197.2" width="1" height="30.4" fill="#22804f"/>
<rect x="1400" y="198.7" width="3" height="5.3" fill="#22804f"/>
<rect x="1405" y="185.9" width="1" height="52.3" fill="#e8000b"/>
<rect x="1404" y="197" width="3" height="38" fill="#e8000b"/>
<rect x="1409" y="216" width="1" height="12" fill="#22804f"/>
<rect x="1408" y="221.3" width="3" height="4.2" fill="#22804f"/>
<rect x="1413" y="216" width="1" height="11.6" fill="#22804f"/>
<rect x="1412" y="216.7" width="3" height="5.1" fill="#22804f"/>
<rect x="1417" y="204.8" width="1" height="16.5" fill="#e8000b"/>
<rect x="1416" y="216.7" width="3" height="1.5" fill="#e8000b"/>
<rect x="1421" y="211.2" width="1" height="43.5" fill="#e8000b"/>
<rect x="1420" y="217.1" width="3" height="31.7" fill="#e8000b"/>
<rect x="1425" y="228.7" width="1" height="23.2" fill="#e8000b"/>
<rect x="1424" y="247.7" width="3" height="1.1" fill="#e8000b"/>
<rect x="1430" y="239.2" width="1" height="36.5" fill="#22804f"/>
<rect x="1429" y="247.1" width="3" height="2.1" fill="#22804f"/>
<rect x="1434" y="246.2" width="1" height="7.8" fill="#e8000b"/>
<rect x="1433" y="246.6" width="3" height="6.8" fill="#e8000b"/>
<rect x="1438" y="232.9" width="1" height="22.6" fill="#22804f"/>
<rect x="1437" y="241.4" width="3" height="12" fill="#22804f"/>
<rect x="1442" y="237.1" width="1" height="12" fill="#22804f"/>
<rect x="1441" y="239.9" width="3" height="1.5" fill="#22804f"/>
<rect x="1446" y="223" width="1" height="20.5" fill="#22804f"/>
<rect x="1445" y="231.9" width="3" height="9.5" fill="#22804f"/>
<rect x="1450" y="188.6" width="1" height="48.5" fill="#22804f"/>
<rect x="1449" y="189.6" width="3" height="44.3" fill="#22804f"/>
<rect x="1454" y="155.9" width="1" height="46" fill="#22804f"/>
<rect x="1453" y="157.6" width="3" height="34.2" fill="#22804f"/>
<rect x="1458" y="152.7" width="1" height="12" fill="#e8000b"/>
<rect x="1457" y="157.6" width="3" height="2.1" fill="#e8000b"/>
<rect x="1462" y="153.8" width="1" height="23.6" fill="#22804f"/>
<rect x="1461" y="156.9" width="3" height="2.7" fill="#22804f"/>
<rect x="1466" y="153.8" width="1" height="20.1" fill="#e8000b"/>
<rect x="1465" y="156.3" width="3" height="13.3" fill="#e8000b"/>
<rect x="1471" y="166" width="1" height="36.3" fill="#e8000b"/>
<rect x="1470" y="168.1" width="3" height="28.3" fill="#e8000b"/>
<rect x="1475" y="169" width="1" height="47.1" fill="#e8000b"/>
<rect x="1474" y="195.6" width="3" height="19.4" fill="#e8000b"/>
<rect x="1479" y="198.1" width="1" height="20.7" fill="#22804f"/>
<rect x="1478" y="204" width="3" height="10.6" fill="#22804f"/>
<rect x="1483" y="201.9" width="1" height="7.8" fill="#e8000b"/>
<rect x="1482" y="204" width="3" height="3.6" fill="#e8000b"/>
<rect x="1487" y="178" width="1" height="27.4" fill="#22804f"/>
<rect x="1486" y="189.6" width="3" height="15.8" fill="#22804f"/>
<rect x="1491" y="126.3" width="1" height="66.5" fill="#22804f"/>
<rect x="1490" y="136.9" width="3" height="53.8" fill="#22804f"/>
<rect x="1495" y="134.8" width="1" height="40.1" fill="#e8000b"/>
<rect x="1494" y="136.9" width="3" height="33.8" fill="#e8000b"/>
<rect x="1499" y="169" width="1" height="33.3" fill="#e8000b"/>
<rect x="1498" y="169.6" width="3" height="30.6" fill="#e8000b"/>
<rect x="1503" y="188" width="1" height="26.6" fill="#22804f"/>
<rect x="1502" y="196" width="3" height="1.7" fill="#22804f"/>
<rect x="1508" y="175.9" width="1" height="23.8" fill="#22804f"/>
<rect x="1507" y="188.6" width="3" height="9.9" fill="#22804f"/>
<rect x="1512" y="183.7" width="1" height="23.2" fill="#e8000b"/>
<rect x="1511" y="188.6" width="3" height="17.5" fill="#e8000b"/>
<rect x="1516" y="188" width="1" height="18.6" fill="#22804f"/>
<rect x="1515" y="190.7" width="3" height="15.4" fill="#22804f"/>
<rect x="1520" y="182.9" width="1" height="16.9" fill="#e8000b"/>
<rect x="1519" y="190.7" width="3" height="7.4" fill="#e8000b"/>
</svg>
<rect x="0" y="544" width="1623" height="1" fill="#e0e3eb"/>
<rect x="0" y="587.3" width="1562" height="100" fill="rgba(126,87,194,0.1)"/>
<line x1="0" y1="587.3" x2="1562" y2="587.3" stroke="#787b86" stroke-width="1" stroke-dasharray="5 4"/>
<line x1="0" y1="637.3" x2="1562" y2="637.3" stroke="#787b86" stroke-width="1" stroke-dasharray="5 4"/>
<line x1="0" y1="687.3" x2="1562" y2="687.3" stroke="#787b86" stroke-width="1" stroke-dasharray="5 4"/>
<polyline points="0,625.2 2.6,636.8 9,654.9 12.9,643.3 16.8,666.5 20.7,654.9 24.5,649.7 28.4,653.6 32.3,649.7 37.4,636.8 41.3,639.4 45.9,645.3 49.8,642.5 53.7,651 57.3,641.4 61.4,643.8 65.8,629.6 69.7,638.6 74.9,639.4 83.1,625.2 86.5,624.7 90.9,605.8 95,599.4 98.9,599.9 103.3,608.4 107.1,604 111,602.5 115.6,622.6 120,629.8 123.9,623.9 127.8,622.6 131.6,643.3 136,626.5 139.9,623.1 143.8,611 147.7,635.5 152.3,636 156.9,635 160.6,639.4 164.4,649.7 169.1,666 172.4,649.7 176.3,646.4 180.7,648.4 184.6,668.5 189.7,658.7 193.6,665.2 197.5,664.4 201.9,653.6 205.7,653.6 209.6,645.3 213.7,653.6 218.1,669.6 222,669.8 225.9,669.1 230.5,676 234.4,676.8 238.8,650.5 242.6,649.7 246.5,644.5 250.4,642.7 255,631.6 258.9,630.3 263.3,638.1 267.9,649.2 272.3,635.5 276.2,631.6 280.1,625.7 284.5,630.3 287.8,644.5 291.7,649.2 295.6,642.5 299.4,651 304.1,644.5 308.5,639.9 312.3,642.5 317,643.3 321.4,665.2 324.7,707.3 328.6,714.8 333,692.3 336.9,679.4 340.7,672.9 345.4,680.7 349.8,687.7 353.6,685.8 357.5,686.6 361.4,670.4 366,661.8 369.9,658.7 373.8,629.1 377.6,638.1 382,635 386.4,631.6 390.3,646.4 394.9,653.6 398.8,658.7 402.7,645.3 406.6,648.4 410.9,656.2 415.1,656.2 420,652.8 423.9,654.9 427.7,653.6 431.6,652.8 436,647.9 439.9,646.4 444,649.7 448.4,644.5 452.3,636.8 456.1,628.3 460.8,624.4 465.2,634.2 469,625.2 472.9,610.5 476.8,629.1 480.7,623.9 485,626.5 488.9,623.1 493.1,629.1 497.4,626.5 502.1,607.6 506,664.4 509.8,651.5 514.2,644.5 518.6,642 522.5,639.4 525.8,640.7 529.7,674.2 533.6,674.2 538.2,675 542.6,676.8 546.5,656.9 551.1,662.6 554.7,676.8 558.9,699.3 562.7,705.7 566.6,692.8 571,689.7 575.4,679.4 580,669.1 583.9,672.2 588.3,663.4 592.4,660 596,660 600.2,651.5 604,643.3 607.9,595.5 611.8,612.8 616.2,615.4 620.8,618.7 624.7,614.9 629.1,605.3 633,606.6 636.8,630.3 640.7,639.4 644.6,647.1 649,644.5 653.1,653.6 657.5,667 661.9,663.9 666,659.3 669.9,656.9 674.3,658 678.1,667.8 682.5,660 686.6,661.3 690.5,661.8 694.9,662.6 698.8,660.8 703.2,661.8 707,656.9 710.9,686.6 715,688.9 718.9,688.9 722.8,690.2 727.2,701.3 731.6,701.8 735.7,709.1 740.1,707.8 744,694.1 747.8,643.3 752.2,651.8 756.1,647.6 760,647.6 764.1,621.3 768,619.5 772.9,614.9 777,618 780.9,616.1 785.3,620 789.1,616.7 793,628.3 796.9,627.2 801.3,632.4 805.1,625.7 809.8,632.4 814.2,623.9 818.3,622.6 822.2,623.1 826,624.7 829.9,642.5 833.8,623.1 837.7,629.1 842.1,649.7 845.7,650.5 850.8,644.5 854.7,622.1 858.8,614.3 863.2,607.1 867.1,573.6 871,567.9 874.8,567.9 878.7,596.8 883.4,609.2 887.8,622.1 891.6,602 895.5,595.5 899.9,603.8 904,601.4 907.9,601.4 911.8,589.8 915.6,605.8 919.5,606.3 923.9,614.9 928.3,614.9 932.9,620.8 936.8,619.2 940.7,623.4 944.5,609.2 948.4,614.9 952.8,599.9 957.4,592.4 961.3,583.1 965.7,574.3 969.6,590.9 973.7,591.6 977.6,611 981.5,611.5 985.8,619.2 989.7,595.5 993.6,605 998,609.7 1001.8,638.9 1007,644 1010.9,641.4 1015,646.6 1018.9,645.8 1022.8,639.9 1026.6,644 1030.5,637.6 1034.9,649.7 1038.8,657.4 1043.4,645.3 1047.3,647.1 1051.7,642 1055.5,641.4 1059.4,642.5 1063.8,662.6 1067.7,635 1071.5,637.6 1075.4,653.6 1080.1,660 1084.7,647.9 1088.6,660.8 1093,649.2 1096.8,658 1101.2,659.5 1104.6,697.5 1109.2,703.1 1113.1,700.8 1117,682 1121.9,653.6 1125.8,663.4 1129.9,646.4 1134.3,650.5 1138.1,651.8 1142,646.6 1145.9,626 1149.8,625.2 1154.1,629.6 1158.8,627 1162.7,618.7 1166.5,614.3 1170.4,611.5 1174.8,619.5 1178.7,623.9 1182.8,628.3 1186.7,634.7 1191.1,642.7 1195.4,638.9 1200.1,630.3 1204,630.3 1207.8,633.4 1211.7,628.5 1215.6,632.9 1219.5,648.4 1223.8,660.8 1227.7,663.4 1231.8,672.2 1236.2,670.9 1240.1,669.6 1244.5,662.6 1248.6,665.7 1253,670.4 1256.9,673.7 1264.3,669.6 1269,650.5 1273.6,636.8 1278,622.6 1281.9,619.2 1285.7,620 1290.1,610.2 1294.8,611 1297.9,611.8 1301.7,600.7 1305.9,599.4 1309.7,584.4 1314.6,580.5 1318.8,606.6 1322.6,590.9 1327,588.5 1330.9,578.7 1334.8,581.3 1339.2,578.7 1343,577.9 1347.2,563.2 1351.6,571.8 1355.9,580.5 1360.1,584.4 1363.9,582.6 1367.8,595.5 1371.7,596.3 1376.1,598.9 1379.9,597.6 1383.8,595 1387.7,621.3 1392.3,621.3 1396.7,621.8 1400.6,618.7 1404.5,642 1409.1,638.1 1413.5,635.5 1417.4,636 1421.2,661.3 1425.6,661.3 1429.8,659.5 1433.6,664.4 1437.5,650.5 1441.9,649.7 1445.8,640.7 1449.6,607.1 1453.5,589 1457.4,589.8 1462,589 1466.4,602.7 1470.3,625.2 1474.9,640.7 1479.3,634.2 1483.2,635 1487.6,623.4 1490.9,595.5 1494.8,620 1498.7,635.5 1503.1,635 1507.7,631.1 1512.1,641.2 1516,632.2 1520.6,636.8" fill="none" stroke="#7e57c2" stroke-width="1.2" stroke-linejoin="round"/>
<text x="8.8" y="565.8" fill="#45484f" font-size="12.5" textLength="35" lengthAdjust="spacingAndGlyphs" stroke="#45484f" stroke-width="0.3">RSI 14</text><text x="51.3" y="565.8" fill="#7e57c2" font-size="12.5" stroke="#7e57c2" stroke-width="0.3">50.18</text>
<text x="1571.5" y="46.3" fill="#4d5058" font-size="12" textLength="42.5" lengthAdjust="spacingAndGlyphs" stroke="#4d5058" stroke-width="0.3">1.06000</text>
<text x="1571.5" y="105.2" fill="#4d5058" font-size="12" textLength="42.5" lengthAdjust="spacingAndGlyphs" stroke="#4d5058" stroke-width="0.3">1.05500</text>
<text x="1571.5" y="164" fill="#4d5058" font-size="12" textLength="42.5" lengthAdjust="spacingAndGlyphs" stroke="#4d5058" stroke-width="0.3">1.05000</text>
<text x="1571.5" y="340.7" fill="#4d5058" font-size="12" textLength="42.5" lengthAdjust="spacingAndGlyphs" stroke="#4d5058" stroke-width="0.3">1.03500</text>
<text x="1571.5" y="399.5" fill="#4d5058" font-size="12" textLength="42.5" lengthAdjust="spacingAndGlyphs" stroke="#4d5058" stroke-width="0.3">1.03000</text>
<text x="1571.5" y="517.3" fill="#4d5058" font-size="12" textLength="42.5" lengthAdjust="spacingAndGlyphs" stroke="#4d5058" stroke-width="0.3">1.02000</text>
<rect x="1563" y="138" width="56" height="16.8" rx="2" fill="#2a2e39"/>
<text x="1571.5" y="150.7" fill="#fff" font-size="12" font-weight="bold" textLength="43" lengthAdjust="spacingAndGlyphs">1.05115</text>
<rect x="1563" y="173.1" width="56" height="16.8" rx="2" fill="#f23645"/>
<text x="1571.5" y="185.8" fill="#fff" font-size="12" font-weight="bold" textLength="43" lengthAdjust="spacingAndGlyphs">1.04744</text>
<rect x="1563" y="189.9" width="56" height="16.8" rx="2" fill="#e8000b"/>
<text x="1571.5" y="202.6" fill="#fff" font-size="12" font-weight="bold" textLength="43" lengthAdjust="spacingAndGlyphs">1.04678</text>
<rect x="1563" y="206.8" width="56" height="16.8" rx="2" fill="#fbc02d"/>
<text x="1571.5" y="219.5" fill="#131722" font-size="12" font-weight="normal" textLength="42.5" lengthAdjust="spacingAndGlyphs" stroke="#131722" stroke-width="0.3">1.04657</text>
<rect x="1563" y="259" width="56" height="16.8" rx="2" fill="#4caf50"/>
<text x="1571.5" y="271.7" fill="#fff" font-size="12" font-weight="bold" textLength="43" lengthAdjust="spacingAndGlyphs">1.04092</text>
<rect x="1563" y="277" width="56" height="16.8" rx="2" fill="#2a2e39"/>
<text x="1571.5" y="289.7" fill="#fff" font-size="12" font-weight="bold" textLength="43" lengthAdjust="spacingAndGlyphs">1.03939</text>
<rect x="1563" y="294.2" width="56" height="16.8" rx="2" fill="#2962ff"/>
<text x="1571.5" y="306.9" fill="#fff" font-size="12" font-weight="bold" textLength="43" lengthAdjust="spacingAndGlyphs">1.03858</text>
<rect x="1563" y="446.7" width="56" height="16.8" rx="2" fill="#2a2e39"/>
<text x="1571.5" y="459.4" fill="#fff" font-size="12" font-weight="bold" textLength="43" lengthAdjust="spacingAndGlyphs">1.02494</text>
<text x="1571.5" y="566.6" fill="#4d5058" font-size="12" textLength="29.4" lengthAdjust="spacingAndGlyphs" stroke="#4d5058" stroke-width="0.3">80.00</text>
<text x="1571.5" y="616.6" fill="#4d5058" font-size="12" textLength="29.4" lengthAdjust="spacingAndGlyphs" stroke="#4d5058" stroke-width="0.3">60.00</text>
<text x="1571.5" y="666.6" fill="#4d5058" font-size="12" textLength="29.4" lengthAdjust="spacingAndGlyphs" stroke="#4d5058" stroke-width="0.3">40.00</text>
<text x="1571.5" y="716.6" fill="#4d5058" font-size="12" textLength="29.4" lengthAdjust="spacingAndGlyphs" stroke="#4d5058" stroke-width="0.3">20.00</text>
<rect x="1563" y="629.1" width="43" height="16.8" rx="2" fill="#7e57c2"/>
<text x="1571.5" y="641.6" fill="#fff" font-size="12" font-weight="bold">50.18</text>
<text x="1.3" y="749" fill="#45484f" font-size="12" text-anchor="middle" font-weight="normal" stroke="#45484f" stroke-width="0.3">Dec</text>
<text x="103.3" y="749" fill="#45484f" font-size="12" text-anchor="middle" font-weight="normal" stroke="#45484f" stroke-width="0.3">6</text>
<text x="206.4" y="749" fill="#45484f" font-size="12" text-anchor="middle" font-weight="normal" stroke="#45484f" stroke-width="0.3">12</text>
<text x="309.2" y="749" fill="#45484f" font-size="12" text-anchor="middle" font-weight="normal" stroke="#45484f" stroke-width="0.3">18</text>
<text x="411.2" y="749" fill="#45484f" font-size="12" text-anchor="middle" font-weight="normal" stroke="#45484f" stroke-width="0.3">24</text>
<text x="543.4" y="749" fill="#45484f" font-size="12" text-anchor="middle" font-weight="bold">2025</text>
<text x="625.2" y="749" fill="#45484f" font-size="12" text-anchor="middle" font-weight="normal" stroke="#45484f" stroke-width="0.3">7</text>
<text x="723.3" y="749" fill="#45484f" font-size="12" text-anchor="middle" font-weight="normal" stroke="#45484f" stroke-width="0.3">12</text>
<text x="826.6" y="749" fill="#45484f" font-size="12" text-anchor="middle" font-weight="normal" stroke="#45484f" stroke-width="0.3">17</text>
<text x="929.3" y="749" fill="#45484f" font-size="12" text-anchor="middle" font-weight="normal" stroke="#45484f" stroke-width="0.3">23</text>
<text x="1019.4" y="749" fill="#45484f" font-size="12" text-anchor="middle" font-weight="normal" stroke="#45484f" stroke-width="0.3">12:00</text>
<text x="1105.4" y="749" fill="#45484f" font-size="12" text-anchor="middle" font-weight="normal" stroke="#45484f" stroke-width="0.3">Feb</text>
<text x="1208.4" y="749" fill="#45484f" font-size="12" text-anchor="middle" font-weight="normal" stroke="#45484f" stroke-width="0.3">7</text>
<text x="1310.3" y="749" fill="#45484f" font-size="12" text-anchor="middle" font-weight="normal" stroke="#45484f" stroke-width="0.3">13</text>
<text x="1413.2" y="749" fill="#45484f" font-size="12" text-anchor="middle" font-weight="normal" stroke="#45484f" stroke-width="0.3">19</text>
<text x="1516.2" y="749" fill="#45484f" font-size="12" text-anchor="middle" font-weight="normal" stroke="#45484f" stroke-width="0.3">25</text>
<g transform="translate(1594,745.8)" fill="none" stroke="#2a2e39" stroke-width="1.2"><path d="M-6.7,0 L-3.5,-6 L3.5,-6 L6.7,0 L3.5,6 L-3.5,6 Z"/><rect x="-2" y="-2" width="4" height="4" rx="1"/></g>
<circle cx="27.4" cy="701.9" r="16.2" fill="#fff" stroke="#dde0e8" stroke-width="1.2"/>
<g fill="#131722"><path d="M17,697.1 H25.8 V707.9 H21.9 V700.7 H17 Z"/><circle cx="29" cy="698.9" r="1.75"/><path d="M32.7,697.1 H38.3 L33.9,707.9 H29 Z"/></g>
<rect x="3" y="5" width="538" height="24" fill="rgba(255,255,255,0.5)"/>
<rect x="3" y="29" width="143" height="48" fill="rgba(255,255,255,0.5)"/>
<rect x="3" y="77" width="150" height="48" fill="rgba(255,255,255,0.5)"/>
<text x="8" y="22.8" fill="#43464f" stroke="none" font-size="15.5" textLength="130" lengthAdjust="spacingAndGlyphs">EUR/USD Spot · 4h</text>
<circle cx="162" cy="17" r="9" fill="rgba(8,153,129,0.15)"/><circle cx="162" cy="17" r="3.8" fill="#089981"/>
<text x="187" y="21.6" font-size="12.5" xml:space="preserve"><tspan fill="#45484f" stroke="#45484f" stroke-width="0.3">O</tspan><tspan fill="#e8000b" stroke="#e8000b" stroke-width="0.3">1.04735</tspan>  <tspan fill="#45484f" stroke="#45484f" stroke-width="0.3">H</tspan><tspan fill="#e8000b" stroke="#e8000b" stroke-width="0.3">1.04803</tspan>  <tspan fill="#45484f" stroke="#45484f" stroke-width="0.3">L</tspan><tspan fill="#e8000b" stroke="#e8000b" stroke-width="0.3">1.04669</tspan>  <tspan fill="#45484f" stroke="#45484f" stroke-width="0.3">C</tspan><tspan fill="#e8000b" stroke="#e8000b" stroke-width="0.3">1.04678</tspan>  <tspan fill="#e8000b" stroke="#e8000b" stroke-width="0.3">−0.00055 (−0.05%)</tspan></text>
<text x="8" y="45.9" fill="#45484f" font-size="12.5" stroke="#45484f" stroke-width="0.3">MA 20 close 0</text>
<text x="95.9" y="45.9" fill="#f23645" font-size="12.5" stroke="#f23645" stroke-width="0.3">1.04744</text>
<text x="8" y="69.8" fill="#45484f" font-size="12.5" stroke="#45484f" stroke-width="0.3">MA 50 close 0</text>
<text x="95.9" y="69.8" fill="#f5b52a" font-size="12.5" stroke="#f5b52a" stroke-width="0.3">1.04657</text>
<text x="8" y="93.7" fill="#45484f" font-size="12.5" stroke="#45484f" stroke-width="0.3">MA 100 close 0</text>
<text x="102.5" y="93.7" fill="#4caf50" font-size="12.5" stroke="#4caf50" stroke-width="0.3">1.04092</text>
<text x="8" y="117.6" fill="#45484f" font-size="12.5" stroke="#45484f" stroke-width="0.3">MA 200 close 0</text>
<text x="102.5" y="117.6" fill="#2962ff" font-size="12.5" stroke="#2962ff" stroke-width="0.3">1.03858</text>
<rect x="8.9" y="127.9" width="27.3" height="19.4" rx="3" fill="rgba(255,255,255,0.6)" stroke="#d4d7df" stroke-width="1.3"/>
<path d="M18.4,139.6 L22.4,135.4 L26.4,139.6" fill="none" stroke="#2a2e39" stroke-width="1.6"/>
<rect x="0" y="0" width="1623" height="1" fill="#e0e3eb"/>
</svg>
</body></html>
